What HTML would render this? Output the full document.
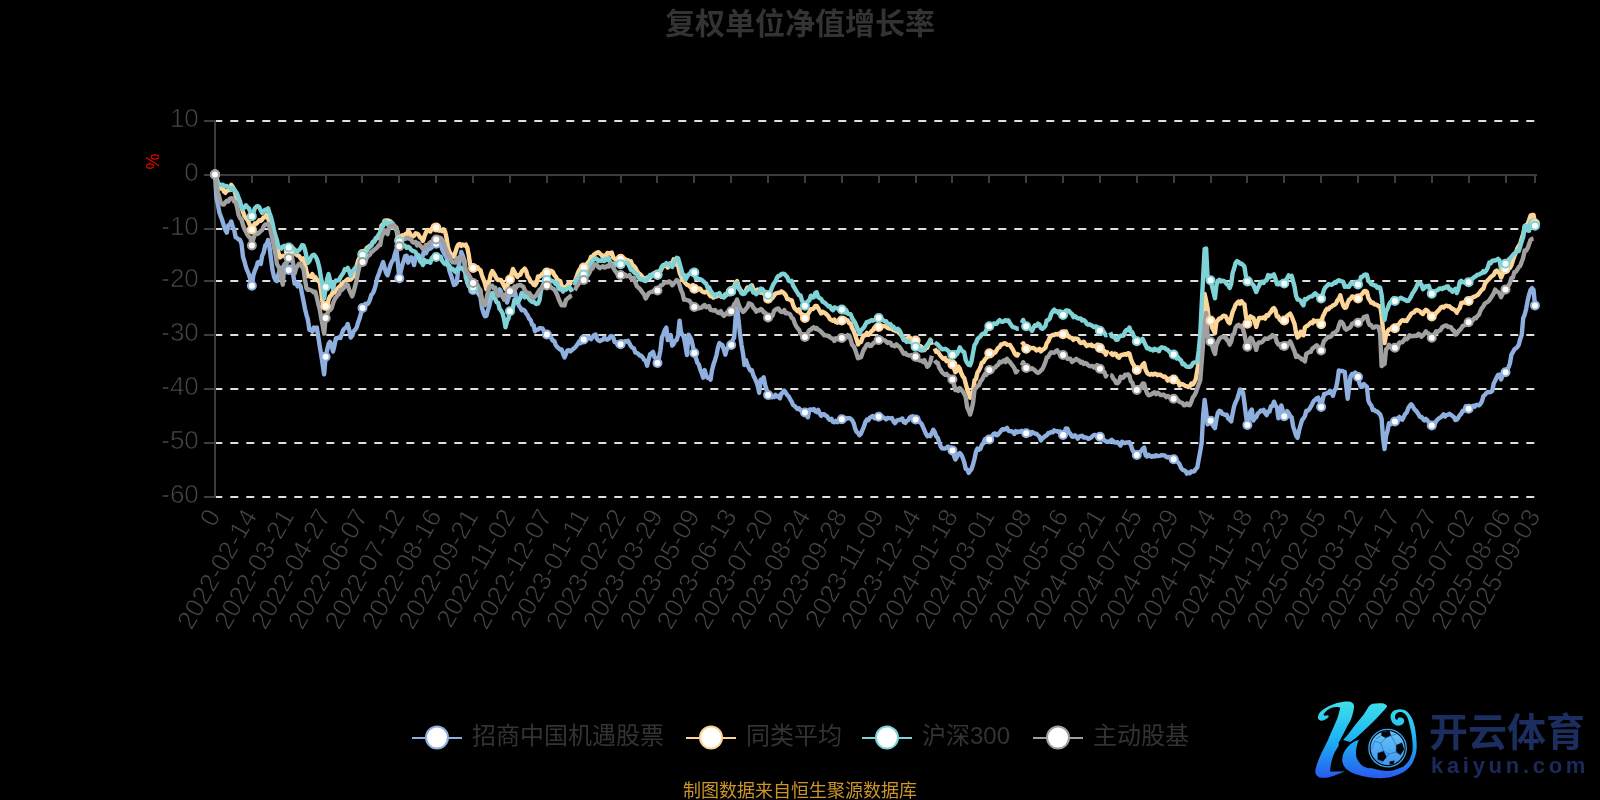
<!DOCTYPE html>
<html><head><meta charset="utf-8"><title>复权单位净值增长率</title><style>
html,body{margin:0;padding:0;background:#000;}
body{width:1600px;height:800px;overflow:hidden;}
svg{display:block;will-change:transform;}
text{font-family:"Liberation Sans","Noto Sans CJK SC",sans-serif;}
.title{font-size:30px;font-weight:bold;fill:#333;font-family:"Liberation Sans","Noto Sans CJK SC",sans-serif;}
.pct{font-size:18px;fill:#e00;}
.ylab{font-size:26px;fill:#474747;stroke:#000;stroke-width:0.7px;}
.xlab{font-size:26px;fill:#474747;stroke:#000;stroke-width:0.7px;}
.leg{font-size:24px;fill:#333;font-family:"Liberation Sans","Noto Sans CJK SC",sans-serif;}
.foot{font-size:18px;fill:#cc9529;font-family:"Liberation Sans","Noto Sans CJK SC",sans-serif;}
.logo1{font-size:39px;fill:#1c2d5f;font-family:"Liberation Sans","Noto Sans CJK SC",sans-serif;font-weight:bold;}
.logo2{font-size:22px;fill:#1a2b5b;letter-spacing:3.7px;font-weight:bold;}
</style></head>
<body>
<svg width="1600" height="800" viewBox="0 0 1600 800">
<text x="800" y="33.8" text-anchor="middle" class="title">复权单位净值增长率</text>
<text x="0" y="0" class="pct" transform="translate(152,161.5) rotate(90)" text-anchor="middle" dominant-baseline="central">%</text>
<line x1="215" y1="121" x2="1535" y2="121" stroke="#dedede" stroke-width="2" stroke-dasharray="8 8" stroke-dashoffset="0.7"/>
<line x1="215" y1="229" x2="1535" y2="229" stroke="#dedede" stroke-width="2" stroke-dasharray="8 8" stroke-dashoffset="0.7"/>
<line x1="215" y1="281" x2="1535" y2="281" stroke="#dedede" stroke-width="2" stroke-dasharray="8 8" stroke-dashoffset="0.7"/>
<line x1="215" y1="335" x2="1535" y2="335" stroke="#dedede" stroke-width="2" stroke-dasharray="8 8" stroke-dashoffset="0.7"/>
<line x1="215" y1="389" x2="1535" y2="389" stroke="#dedede" stroke-width="2" stroke-dasharray="8 8" stroke-dashoffset="0.7"/>
<line x1="215" y1="443" x2="1535" y2="443" stroke="#dedede" stroke-width="2" stroke-dasharray="8 8" stroke-dashoffset="0.7"/>
<line x1="215" y1="497" x2="1535" y2="497" stroke="#dedede" stroke-width="2" stroke-dasharray="8 8" stroke-dashoffset="0.7"/>
<line x1="215" y1="120" x2="215" y2="498" stroke="#3c3c3c" stroke-width="2"/>
<line x1="204" y1="121" x2="215" y2="121" stroke="#3c3c3c" stroke-width="2"/>
<text x="198.8" y="117.5" class="ylab" text-anchor="end" dominant-baseline="central">10</text>
<line x1="204" y1="175" x2="215" y2="175" stroke="#3c3c3c" stroke-width="2"/>
<text x="198.8" y="171.5" class="ylab" text-anchor="end" dominant-baseline="central">0</text>
<line x1="204" y1="229" x2="215" y2="229" stroke="#3c3c3c" stroke-width="2"/>
<text x="198.8" y="225.5" class="ylab" text-anchor="end" dominant-baseline="central">-10</text>
<line x1="204" y1="281" x2="215" y2="281" stroke="#3c3c3c" stroke-width="2"/>
<text x="198.8" y="277.5" class="ylab" text-anchor="end" dominant-baseline="central">-20</text>
<line x1="204" y1="335" x2="215" y2="335" stroke="#3c3c3c" stroke-width="2"/>
<text x="198.8" y="331.5" class="ylab" text-anchor="end" dominant-baseline="central">-30</text>
<line x1="204" y1="389" x2="215" y2="389" stroke="#3c3c3c" stroke-width="2"/>
<text x="198.8" y="385.5" class="ylab" text-anchor="end" dominant-baseline="central">-40</text>
<line x1="204" y1="443" x2="215" y2="443" stroke="#3c3c3c" stroke-width="2"/>
<text x="198.8" y="439.5" class="ylab" text-anchor="end" dominant-baseline="central">-50</text>
<line x1="204" y1="497" x2="215" y2="497" stroke="#3c3c3c" stroke-width="2"/>
<text x="198.8" y="493.5" class="ylab" text-anchor="end" dominant-baseline="central">-60</text>
<line x1="214" y1="175" x2="1537" y2="175" stroke="#3c3c3c" stroke-width="2"/>
<line x1="215" y1="175" x2="215" y2="183" stroke="#3c3c3c" stroke-width="2"/>
<line x1="252" y1="175" x2="252" y2="183" stroke="#3c3c3c" stroke-width="2"/>
<line x1="289" y1="175" x2="289" y2="183" stroke="#3c3c3c" stroke-width="2"/>
<line x1="326" y1="175" x2="326" y2="183" stroke="#3c3c3c" stroke-width="2"/>
<line x1="362" y1="175" x2="362" y2="183" stroke="#3c3c3c" stroke-width="2"/>
<line x1="399" y1="175" x2="399" y2="183" stroke="#3c3c3c" stroke-width="2"/>
<line x1="436" y1="175" x2="436" y2="183" stroke="#3c3c3c" stroke-width="2"/>
<line x1="473" y1="175" x2="473" y2="183" stroke="#3c3c3c" stroke-width="2"/>
<line x1="510" y1="175" x2="510" y2="183" stroke="#3c3c3c" stroke-width="2"/>
<line x1="547" y1="175" x2="547" y2="183" stroke="#3c3c3c" stroke-width="2"/>
<line x1="584" y1="175" x2="584" y2="183" stroke="#3c3c3c" stroke-width="2"/>
<line x1="621" y1="175" x2="621" y2="183" stroke="#3c3c3c" stroke-width="2"/>
<line x1="657" y1="175" x2="657" y2="183" stroke="#3c3c3c" stroke-width="2"/>
<line x1="694" y1="175" x2="694" y2="183" stroke="#3c3c3c" stroke-width="2"/>
<line x1="731" y1="175" x2="731" y2="183" stroke="#3c3c3c" stroke-width="2"/>
<line x1="768" y1="175" x2="768" y2="183" stroke="#3c3c3c" stroke-width="2"/>
<line x1="805" y1="175" x2="805" y2="183" stroke="#3c3c3c" stroke-width="2"/>
<line x1="842" y1="175" x2="842" y2="183" stroke="#3c3c3c" stroke-width="2"/>
<line x1="879" y1="175" x2="879" y2="183" stroke="#3c3c3c" stroke-width="2"/>
<line x1="916" y1="175" x2="916" y2="183" stroke="#3c3c3c" stroke-width="2"/>
<line x1="952" y1="175" x2="952" y2="183" stroke="#3c3c3c" stroke-width="2"/>
<line x1="989" y1="175" x2="989" y2="183" stroke="#3c3c3c" stroke-width="2"/>
<line x1="1026" y1="175" x2="1026" y2="183" stroke="#3c3c3c" stroke-width="2"/>
<line x1="1063" y1="175" x2="1063" y2="183" stroke="#3c3c3c" stroke-width="2"/>
<line x1="1100" y1="175" x2="1100" y2="183" stroke="#3c3c3c" stroke-width="2"/>
<line x1="1137" y1="175" x2="1137" y2="183" stroke="#3c3c3c" stroke-width="2"/>
<line x1="1174" y1="175" x2="1174" y2="183" stroke="#3c3c3c" stroke-width="2"/>
<line x1="1211" y1="175" x2="1211" y2="183" stroke="#3c3c3c" stroke-width="2"/>
<line x1="1247" y1="175" x2="1247" y2="183" stroke="#3c3c3c" stroke-width="2"/>
<line x1="1284" y1="175" x2="1284" y2="183" stroke="#3c3c3c" stroke-width="2"/>
<line x1="1321" y1="175" x2="1321" y2="183" stroke="#3c3c3c" stroke-width="2"/>
<line x1="1358" y1="175" x2="1358" y2="183" stroke="#3c3c3c" stroke-width="2"/>
<line x1="1395" y1="175" x2="1395" y2="183" stroke="#3c3c3c" stroke-width="2"/>
<line x1="1432" y1="175" x2="1432" y2="183" stroke="#3c3c3c" stroke-width="2"/>
<line x1="1469" y1="175" x2="1469" y2="183" stroke="#3c3c3c" stroke-width="2"/>
<line x1="1506" y1="175" x2="1506" y2="183" stroke="#3c3c3c" stroke-width="2"/>
<line x1="1535" y1="175" x2="1535" y2="183" stroke="#3c3c3c" stroke-width="2"/>
<text class="xlab" text-anchor="end" dominant-baseline="central" transform="translate(213.40,511.25) rotate(-60)">0</text>
<text class="xlab" text-anchor="end" dominant-baseline="central" transform="translate(250.27,511.25) rotate(-60)">2022-02-14</text>
<text class="xlab" text-anchor="end" dominant-baseline="central" transform="translate(287.14,511.25) rotate(-60)">2022-03-21</text>
<text class="xlab" text-anchor="end" dominant-baseline="central" transform="translate(324.01,511.25) rotate(-60)">2022-04-27</text>
<text class="xlab" text-anchor="end" dominant-baseline="central" transform="translate(360.89,511.25) rotate(-60)">2022-06-07</text>
<text class="xlab" text-anchor="end" dominant-baseline="central" transform="translate(397.76,511.25) rotate(-60)">2022-07-12</text>
<text class="xlab" text-anchor="end" dominant-baseline="central" transform="translate(434.63,511.25) rotate(-60)">2022-08-16</text>
<text class="xlab" text-anchor="end" dominant-baseline="central" transform="translate(471.50,511.25) rotate(-60)">2022-09-21</text>
<text class="xlab" text-anchor="end" dominant-baseline="central" transform="translate(508.37,511.25) rotate(-60)">2022-11-02</text>
<text class="xlab" text-anchor="end" dominant-baseline="central" transform="translate(545.24,511.25) rotate(-60)">2022-12-07</text>
<text class="xlab" text-anchor="end" dominant-baseline="central" transform="translate(582.12,511.25) rotate(-60)">2023-01-11</text>
<text class="xlab" text-anchor="end" dominant-baseline="central" transform="translate(618.99,511.25) rotate(-60)">2023-02-22</text>
<text class="xlab" text-anchor="end" dominant-baseline="central" transform="translate(655.86,511.25) rotate(-60)">2023-03-29</text>
<text class="xlab" text-anchor="end" dominant-baseline="central" transform="translate(692.73,511.25) rotate(-60)">2023-05-09</text>
<text class="xlab" text-anchor="end" dominant-baseline="central" transform="translate(729.60,511.25) rotate(-60)">2023-06-13</text>
<text class="xlab" text-anchor="end" dominant-baseline="central" transform="translate(766.47,511.25) rotate(-60)">2023-07-20</text>
<text class="xlab" text-anchor="end" dominant-baseline="central" transform="translate(803.34,511.25) rotate(-60)">2023-08-24</text>
<text class="xlab" text-anchor="end" dominant-baseline="central" transform="translate(840.22,511.25) rotate(-60)">2023-09-28</text>
<text class="xlab" text-anchor="end" dominant-baseline="central" transform="translate(877.09,511.25) rotate(-60)">2023-11-09</text>
<text class="xlab" text-anchor="end" dominant-baseline="central" transform="translate(913.96,511.25) rotate(-60)">2023-12-14</text>
<text class="xlab" text-anchor="end" dominant-baseline="central" transform="translate(950.83,511.25) rotate(-60)">2024-01-18</text>
<text class="xlab" text-anchor="end" dominant-baseline="central" transform="translate(987.70,511.25) rotate(-60)">2024-03-01</text>
<text class="xlab" text-anchor="end" dominant-baseline="central" transform="translate(1024.57,511.25) rotate(-60)">2024-04-08</text>
<text class="xlab" text-anchor="end" dominant-baseline="central" transform="translate(1061.44,511.25) rotate(-60)">2024-05-16</text>
<text class="xlab" text-anchor="end" dominant-baseline="central" transform="translate(1098.32,511.25) rotate(-60)">2024-06-21</text>
<text class="xlab" text-anchor="end" dominant-baseline="central" transform="translate(1135.19,511.25) rotate(-60)">2024-07-25</text>
<text class="xlab" text-anchor="end" dominant-baseline="central" transform="translate(1172.06,511.25) rotate(-60)">2024-08-29</text>
<text class="xlab" text-anchor="end" dominant-baseline="central" transform="translate(1208.93,511.25) rotate(-60)">2024-10-14</text>
<text class="xlab" text-anchor="end" dominant-baseline="central" transform="translate(1245.80,511.25) rotate(-60)">2024-11-18</text>
<text class="xlab" text-anchor="end" dominant-baseline="central" transform="translate(1282.67,511.25) rotate(-60)">2024-12-23</text>
<text class="xlab" text-anchor="end" dominant-baseline="central" transform="translate(1319.55,511.25) rotate(-60)">2025-02-05</text>
<text class="xlab" text-anchor="end" dominant-baseline="central" transform="translate(1356.42,511.25) rotate(-60)">2025-03-12</text>
<text class="xlab" text-anchor="end" dominant-baseline="central" transform="translate(1393.29,511.25) rotate(-60)">2025-04-17</text>
<text class="xlab" text-anchor="end" dominant-baseline="central" transform="translate(1430.16,511.25) rotate(-60)">2025-05-27</text>
<text class="xlab" text-anchor="end" dominant-baseline="central" transform="translate(1467.03,511.25) rotate(-60)">2025-07-02</text>
<text class="xlab" text-anchor="end" dominant-baseline="central" transform="translate(1503.90,511.25) rotate(-60)">2025-08-06</text>
<text class="xlab" text-anchor="end" dominant-baseline="central" transform="translate(1533.40,511.25) rotate(-60)">2025-09-03</text>
<path d="M215.00,174.50L216.47,197.95L217.95,204.60L219.42,212.79L220.90,216.80L222.37,220.59L223.85,225.62L225.32,229.87L226.80,232.64L228.27,225.31L229.75,224.89L231.22,221.48L232.70,226.64L234.17,229.80L235.65,237.28L237.12,237.92L238.60,239.43L240.07,239.91L241.55,244.09L243.02,257.01L244.50,261.56L245.97,267.26L247.45,270.97L248.92,274.50L250.40,279.54L251.87,285.75L253.35,275.25L254.82,270.64L256.30,267.28L257.77,262.35L259.25,261.97L260.72,264.00L262.20,255.62L263.67,252.46L265.15,245.74L266.62,243.92L268.09,240.08L269.57,247.43L271.04,259.17L272.52,270.24L273.99,276.56L275.47,280.13L276.94,281.10L278.42,274.71L279.89,269.54L281.37,268.00L282.84,267.13L284.32,265.20L285.79,264.82L287.27,266.24L288.74,270.00L290.22,266.68L291.69,270.21L293.17,274.54L294.64,283.57L296.12,283.25L297.59,286.34L299.07,283.82L300.54,286.14L302.02,293.81L303.49,301.04L304.97,308.71L306.44,314.80L307.92,319.65L309.39,329.81L310.87,329.88L312.34,331.67L313.82,327.46L315.29,329.28L316.77,327.46L318.24,336.63L319.72,346.12L321.19,354.65L322.66,364.52L324.14,374.31L325.61,356.80L327.09,350.23L328.56,343.91L330.04,341.90L331.51,345.34L332.99,351.55L334.46,345.63L335.94,338.24L337.41,338.31L338.89,337.30L340.36,337.97L341.84,333.72L343.31,329.91L344.79,328.25L346.26,327.23L347.74,324.01L349.21,330.09L350.69,337.61L352.16,335.86L353.64,331.22L355.11,329.74L356.59,327.67L358.06,322.56L359.54,318.63L361.01,313.28L362.49,308.00L363.96,305.31L365.44,303.75L366.91,304.52L368.39,303.06L369.86,299.93L371.34,294.89L372.81,293.30L374.28,290.02L375.76,284.75L377.23,278.05L378.71,274.38L380.18,270.04L381.66,266.25L383.13,262.11L384.61,267.55L386.08,272.91L387.56,275.28L389.03,270.15L390.51,264.93L391.98,261.50L393.46,259.59L394.93,253.92L396.41,249.56L397.88,262.97L399.36,278.25L400.83,270.98L402.31,264.93L403.78,260.65L405.26,255.88L406.73,255.80L408.21,262.68L409.68,259.43L411.16,257.26L412.63,260.23L414.11,265.09L415.58,257.22L417.06,256.97L418.53,254.99L420.01,258.55L421.48,260.15L422.96,254.96L424.43,249.49L425.91,253.28L427.38,250.25L428.85,248.84L430.33,248.54L431.80,247.32L433.28,243.81L434.75,244.97L436.23,243.75L437.70,240.92L439.18,238.57L440.65,243.95L442.13,249.04L443.60,252.30L445.08,255.14L446.55,257.35L448.03,264.67L449.50,270.94L450.98,275.41L452.45,279.78L453.93,285.00L455.40,284.32L456.88,282.36L458.35,267.39L459.83,260.61L461.30,251.96L462.78,255.82L464.25,260.20L465.73,277.76L467.20,280.73L468.68,286.20L470.15,285.81L471.63,287.55L473.10,290.00L474.58,289.35L476.05,287.32L477.53,289.88L479.00,294.72L480.47,297.26L481.95,307.57L483.42,312.56L484.90,316.25L486.37,315.87L487.85,310.40L489.32,305.92L490.80,299.06L492.27,294.10L493.75,293.53L495.22,292.69L496.70,293.68L498.17,294.97L499.65,289.33L501.12,292.02L502.60,296.91L504.07,295.11L505.55,295.15L507.02,302.59L508.50,298.06L509.97,292.50L511.45,293.00L512.92,294.94L514.40,289.87L515.87,296.27L517.35,299.87L518.82,305.73L520.30,307.43L521.77,310.33L523.25,309.61L524.72,310.52L526.20,313.43L527.67,315.26L529.15,318.75L530.62,319.95L532.09,324.62L533.57,325.22L535.04,331.28L536.52,329.87L537.99,329.69L539.47,328.25L540.94,328.12L542.42,328.32L543.89,331.19L545.37,332.33L546.84,334.50L548.32,333.47L549.79,335.86L551.27,337.88L552.74,340.71L554.22,340.82L555.69,345.07L557.17,346.84L558.64,348.28L560.12,349.52L561.59,349.50L563.07,353.69L564.54,357.56L566.02,353.67L567.49,350.41L568.97,350.09L570.44,351.36L571.92,350.05L573.39,348.76L574.87,347.67L576.34,345.87L577.82,343.85L579.29,341.41L580.77,343.14L582.24,340.84L583.72,339.50L585.19,340.21L586.66,338.38L588.14,337.80L589.61,337.59L591.09,339.08L592.56,336.90L594.04,335.16L595.51,334.51L596.99,339.04L598.46,340.54L599.94,341.07L601.41,340.21L602.89,339.74L604.36,337.57L605.84,339.21L607.31,339.73L608.79,338.84L610.26,336.42L611.74,336.02L613.21,337.54L614.69,342.06L616.16,342.08L617.64,344.91L619.11,342.70L620.59,344.25L622.06,341.45L623.54,342.49L625.01,341.24L626.49,341.50L627.96,340.71L629.44,343.39L630.91,346.17L632.39,347.73L633.86,348.23L635.34,352.58L636.81,352.84L638.28,353.83L639.76,355.50L641.23,355.78L642.71,357.41L644.18,359.89L645.66,360.61L647.13,365.71L648.61,359.81L650.08,354.36L651.56,353.24L653.03,351.94L654.51,357.20L655.98,358.33L657.46,363.00L658.93,357.58L660.41,350.34L661.88,337.66L663.36,334.04L664.83,329.94L666.31,327.60L667.78,340.13L669.26,338.23L670.73,334.95L672.21,345.63L673.68,343.77L675.16,340.65L676.63,340.01L678.11,335.04L679.58,320.68L681.06,332.68L682.53,334.82L684.01,337.50L685.48,345.96L686.96,355.01L688.43,334.59L689.91,336.77L691.38,339.74L692.85,346.09L694.33,353.00L695.80,357.40L697.28,362.57L698.75,364.37L700.23,369.49L701.70,373.02L703.18,377.62L704.65,370.05L706.13,375.42L707.60,377.73L709.08,377.95L710.55,379.66L712.03,370.10L713.50,364.45L714.98,360.22L716.45,355.25L717.93,347.91L719.40,343.03L720.88,344.35L722.35,345.08L723.83,349.44L725.30,354.71L726.78,349.33L728.25,346.69L729.73,344.70L731.20,345.00L732.68,340.28L734.15,337.53L735.63,317.39L737.10,307.42L738.58,320.52L740.05,334.48L741.53,345.06L743.00,353.37L744.47,364.97L745.95,360.09L747.42,364.73L748.90,367.78L750.37,370.61L751.85,370.15L753.32,375.30L754.80,378.17L756.27,381.62L757.75,385.68L759.22,392.77L760.70,379.54L762.17,379.24L763.65,377.33L765.12,384.79L766.60,389.73L768.07,395.00L769.55,395.18L771.02,397.40L772.50,397.03L773.97,396.96L775.45,394.89L776.92,396.62L778.40,395.88L779.87,398.26L781.35,393.63L782.82,392.60L784.30,390.65L785.77,392.67L787.25,395.13L788.72,396.37L790.20,399.30L791.67,401.67L793.15,405.10L794.62,405.91L796.09,407.69L797.57,409.04L799.04,408.25L800.52,410.16L801.99,411.30L803.47,413.73L804.94,412.50L806.42,412.17L807.89,417.27L809.37,409.69L810.84,409.45L812.32,409.93L813.79,409.06L815.27,411.29L816.74,412.09L818.22,409.76L819.69,413.62L821.17,415.86L822.64,414.23L824.12,414.15L825.59,415.53L827.07,416.18L828.54,418.79L830.02,419.88L831.49,418.93L832.97,421.94L834.44,422.22L835.92,420.84L837.39,422.14L838.87,421.33L840.34,419.15L841.82,419.25L843.29,419.05L844.77,419.74L846.24,418.05L847.72,418.43L849.19,418.01L850.66,418.66L852.14,420.22L853.61,422.95L855.09,428.34L856.56,431.85L858.04,432.99L859.51,435.14L860.99,433.74L862.46,430.05L863.94,426.59L865.41,421.97L866.89,419.62L868.36,420.25L869.84,417.64L871.31,416.89L872.79,415.98L874.26,418.09L875.74,416.94L877.21,417.13L878.69,416.75L880.16,416.75L881.64,416.07L883.11,417.35L884.59,418.18L886.06,419.41L887.54,418.04L889.01,418.18L890.49,418.32L891.96,418.07L893.44,421.30L894.91,423.09L896.39,421.10L897.86,419.95L899.34,420.15L900.81,419.33L902.28,418.47L903.76,422.12L905.23,422.93L906.71,420.74L908.18,420.24L909.66,417.57L911.13,416.72L912.61,416.31L914.08,419.57L915.56,419.38L917.03,421.16L918.51,420.35L919.98,422.33L921.46,423.66L922.93,426.79L924.41,430.24L925.88,433.72L927.36,436.26L928.83,435.40L930.31,436.13L931.78,433.07L933.26,429.67L934.73,432.05L936.21,436.41L937.68,437.70L939.16,442.12L940.63,446.30L942.11,448.42L943.58,448.46L945.06,448.59L946.53,447.82L948.01,446.48L949.48,448.30L950.96,447.48L952.43,450.38L953.91,455.70L955.38,459.58L956.85,457.19L958.33,454.02L959.80,453.03L961.28,454.66L962.75,457.88L964.23,462.20L965.70,468.75L967.18,469.47L968.65,472.85L970.13,470.78L971.60,468.98L973.08,464.15L974.55,458.72L976.03,451.47L977.50,448.47L978.98,449.78L980.45,448.67L981.93,444.69L983.40,443.39L984.88,439.23L986.35,438.94L987.83,437.72L989.30,439.38L990.78,437.85L992.25,435.95L993.73,433.89L995.20,433.44L996.68,435.33L998.15,434.52L999.63,432.53L1001.10,430.65L1002.58,429.13L1004.05,429.69L1005.53,428.78L1007.00,427.90L1008.47,430.67L1009.95,431.18L1011.42,431.18L1012.90,432.03L1014.37,434.05L1015.85,431.16L1017.32,432.30L1018.80,431.39L1020.27,431.78L1021.75,430.80L1023.22,432.27L1024.70,433.08L1026.17,433.25L1027.65,434.42L1029.12,432.11L1030.60,434.50L1032.07,431.96L1033.55,432.88L1035.02,433.70L1036.50,433.75L1037.97,435.24L1039.45,436.65L1040.92,440.38L1042.40,438.50L1043.87,437.32L1045.35,435.91L1046.82,435.42L1048.30,433.06L1049.77,433.09L1051.25,431.86L1052.72,432.37L1054.20,430.36L1055.67,431.12L1057.15,431.28L1058.62,431.94L1060.09,431.45L1061.57,434.14L1063.04,435.00L1064.52,432.15L1065.99,428.38L1067.47,428.60L1068.94,432.46L1070.42,433.88L1071.89,436.55L1073.37,436.75L1074.84,435.31L1076.32,436.44L1077.79,438.76L1079.27,436.53L1080.74,436.00L1082.22,435.81L1083.69,437.64L1085.17,437.45L1086.64,437.66L1088.12,438.89L1089.59,438.36L1091.07,437.57L1092.54,436.15L1094.02,434.87L1095.49,434.93L1096.97,435.65L1098.44,436.88L1099.92,436.75L1101.39,438.12L1102.87,439.59L1104.34,440.12L1105.82,441.46L1107.29,441.71L1108.77,441.75L1110.24,440.92L1111.72,439.73L1113.19,441.23L1114.66,442.46L1116.14,442.51L1117.61,442.20L1119.09,443.79L1120.56,445.51L1122.04,441.81L1123.51,442.60L1124.99,443.01L1126.46,442.42L1127.94,442.49L1129.41,442.27L1130.89,445.17L1132.36,449.93L1133.84,451.83L1135.31,453.28L1136.79,455.00L1138.26,453.63L1139.74,452.11L1141.21,451.13L1142.69,448.90L1144.16,447.46L1145.64,455.26L1147.11,456.44L1148.59,454.81L1150.06,456.03L1151.54,456.75L1153.01,455.87L1154.49,456.51L1155.96,455.30L1157.44,456.02L1158.91,455.98L1160.39,455.58L1161.86,455.07L1163.34,455.38L1164.81,455.53L1166.28,456.97L1167.76,457.48L1169.23,456.98L1170.71,457.90L1172.18,458.76L1173.66,459.25L1175.13,458.37L1176.61,460.82L1178.08,462.39L1179.56,464.30L1181.03,467.85L1182.51,469.74L1183.98,470.28L1185.46,471.11L1186.93,473.57L1188.41,472.52L1189.88,473.28L1191.36,471.31L1192.83,471.67L1194.31,471.28L1195.78,469.02L1197.26,467.50L1198.73,459.44L1200.21,451.47L1201.68,442.74L1203.16,415.12L1204.63,399.90L1206.11,410.99L1207.58,424.39L1209.06,422.76L1210.53,420.63L1212.01,422.82L1213.48,426.38L1214.96,428.10L1216.43,419.04L1217.91,412.83L1219.38,410.79L1220.85,411.30L1222.33,413.90L1223.80,414.22L1225.28,414.89L1226.75,414.81L1228.23,418.59L1229.70,419.69L1231.18,421.36L1232.65,413.47L1234.13,406.27L1235.60,402.30L1237.08,399.38L1238.55,394.79L1240.03,389.41L1241.50,392.17L1242.98,392.31L1244.45,402.90L1245.93,415.17L1247.40,424.94L1248.88,419.19L1250.35,411.55L1251.83,409.47L1253.30,420.52L1254.78,418.35L1256.25,417.26L1257.73,413.54L1259.20,412.36L1260.68,410.51L1262.15,411.09L1263.63,409.95L1265.10,412.90L1266.58,415.07L1268.05,411.39L1269.53,411.64L1271.00,406.14L1272.47,405.98L1273.95,401.65L1275.42,405.32L1276.90,407.10L1278.37,418.20L1279.85,414.54L1281.32,405.37L1282.80,410.79L1284.27,416.31L1285.75,414.19L1287.22,411.16L1288.70,413.03L1290.17,416.25L1291.65,417.34L1293.12,426.44L1294.60,430.74L1296.07,435.52L1297.55,437.85L1299.02,430.80L1300.50,425.27L1301.97,420.29L1303.45,418.42L1304.92,416.13L1306.40,410.65L1307.87,410.70L1309.35,409.27L1310.82,406.59L1312.30,403.99L1313.77,400.91L1315.25,399.96L1316.72,398.29L1318.20,397.65L1319.67,401.50L1321.15,406.94L1322.62,399.96L1324.09,394.06L1325.57,394.05L1327.04,392.98L1328.52,392.91L1329.99,390.77L1331.47,392.46L1332.94,395.84L1334.42,390.62L1335.89,388.57L1337.37,381.48L1338.84,370.42L1340.32,371.06L1341.79,370.89L1343.27,371.53L1344.74,371.93L1346.22,385.77L1347.69,398.73L1349.17,386.92L1350.64,376.36L1352.12,373.86L1353.59,373.90L1355.07,372.54L1356.54,373.72L1358.02,376.94L1359.49,383.64L1360.97,386.87L1362.44,386.72L1363.92,384.11L1365.39,385.71L1366.87,386.56L1368.34,400.63L1369.82,403.72L1371.29,405.54L1372.77,409.96L1374.24,409.77L1375.72,411.38L1377.19,411.34L1378.66,413.03L1380.14,414.43L1381.61,418.68L1383.09,438.54L1384.56,449.08L1386.04,436.10L1387.51,430.97L1388.99,423.12L1390.46,424.19L1391.94,423.00L1393.41,421.30L1394.89,421.56L1396.36,420.80L1397.84,418.41L1399.31,416.95L1400.79,419.16L1402.26,419.65L1403.74,416.88L1405.21,413.86L1406.69,412.55L1408.16,408.42L1409.64,405.85L1411.11,404.22L1412.59,405.91L1414.06,408.69L1415.54,410.22L1417.01,411.97L1418.49,414.24L1419.96,416.78L1421.44,416.93L1422.91,418.91L1424.39,420.47L1425.86,418.89L1427.34,420.18L1428.81,422.38L1430.28,424.13L1431.76,425.38L1433.23,424.92L1434.71,424.02L1436.18,421.13L1437.66,419.38L1439.13,418.14L1440.61,417.42L1442.08,415.94L1443.56,414.37L1445.03,416.62L1446.51,414.88L1447.98,414.72L1449.46,413.75L1450.93,414.91L1452.41,415.89L1453.88,417.10L1455.36,420.09L1456.83,419.69L1458.31,417.61L1459.78,415.15L1461.26,413.78L1462.73,410.67L1464.21,410.70L1465.68,406.34L1467.16,408.09L1468.63,408.81L1470.11,408.93L1471.58,406.34L1473.06,405.78L1474.53,406.80L1476.01,405.01L1477.48,404.93L1478.96,405.34L1480.43,403.93L1481.91,401.44L1483.38,396.16L1484.85,394.86L1486.33,393.04L1487.80,391.98L1489.28,392.34L1490.75,391.94L1492.23,390.93L1493.70,383.47L1495.18,380.73L1496.65,377.34L1498.13,374.94L1499.60,374.53L1501.08,379.47L1502.55,375.44L1504.03,372.74L1505.50,372.25L1506.98,369.69L1508.45,367.35L1509.93,363.42L1511.40,354.67L1512.88,352.28L1514.35,349.39L1515.83,348.43L1517.30,347.10L1518.78,344.80L1520.25,338.86L1521.73,335.02L1523.20,318.07L1524.68,314.54L1526.15,308.99L1527.63,300.78L1529.10,294.63L1530.58,289.85L1532.05,288.15L1533.53,289.96L1535.00,305.44" fill="none" stroke="#8fafdf" stroke-width="4.4" stroke-linejoin="round"/>
<path d="M215.00,174.50L216.47,178.51L217.95,184.55L219.42,186.28L220.90,188.48L222.37,187.14L223.85,191.33L225.32,192.82L226.80,190.77L228.27,190.24L229.75,190.17L231.22,184.83L232.70,186.77L234.17,189.72L235.65,195.22L237.12,199.93L238.60,200.79L240.07,205.67L241.55,207.48L243.02,212.06L244.50,215.90L245.97,217.99L247.45,219.75L248.92,222.78L250.40,226.30L251.87,229.50L253.35,226.33L254.82,223.51L256.30,223.91L257.77,222.24L259.25,220.23L260.72,220.80L262.20,219.55L263.67,217.34L265.15,217.08L266.62,214.64L268.09,218.26L269.57,222.40L271.04,226.76L272.52,235.04L273.99,238.09L275.47,243.77L276.94,247.40L278.42,252.45L279.89,257.39L281.37,256.40L282.84,255.97L284.32,255.88L285.79,256.61L287.27,255.75L288.74,251.25L290.22,255.24L291.69,250.40L293.17,250.45L294.64,252.51L296.12,254.23L297.59,255.48L299.07,256.02L300.54,258.15L302.02,260.21L303.49,258.38L304.97,264.31L306.44,271.52L307.92,276.10L309.39,275.95L310.87,276.65L312.34,274.09L313.82,277.84L315.29,277.11L316.77,279.42L318.24,281.04L319.72,282.24L321.19,291.32L322.66,303.45L324.14,305.85L325.61,306.00L327.09,306.72L328.56,299.70L330.04,296.31L331.51,295.02L332.99,291.77L334.46,292.46L335.94,289.41L337.41,288.68L338.89,287.26L340.36,286.03L341.84,283.64L343.31,284.45L344.79,282.24L346.26,280.40L347.74,279.11L349.21,279.97L350.69,279.53L352.16,277.80L353.64,276.29L355.11,273.84L356.59,266.21L358.06,260.73L359.54,257.77L361.01,255.07L362.49,254.00L363.96,252.11L365.44,250.24L366.91,247.81L368.39,246.83L369.86,245.62L371.34,245.20L372.81,242.65L374.28,241.45L375.76,239.04L377.23,238.18L378.71,235.59L380.18,232.77L381.66,225.39L383.13,224.46L384.61,220.62L386.08,220.36L387.56,220.34L389.03,220.77L390.51,221.46L391.98,223.89L393.46,226.45L394.93,226.30L396.41,227.87L397.88,233.61L399.36,240.00L400.83,236.81L402.31,235.27L403.78,237.15L405.26,234.18L406.73,234.08L408.21,231.01L409.68,232.66L411.16,237.02L412.63,236.50L414.11,235.66L415.58,233.34L417.06,233.74L418.53,234.65L420.01,237.53L421.48,238.11L422.96,240.85L424.43,236.27L425.91,232.62L427.38,229.96L428.85,230.25L430.33,231.48L431.80,228.98L433.28,225.83L434.75,226.82L436.23,227.50L437.70,229.33L439.18,230.76L440.65,229.73L442.13,231.07L443.60,229.23L445.08,231.42L446.55,237.92L448.03,247.53L449.50,251.89L450.98,254.40L452.45,254.64L453.93,256.65L455.40,252.20L456.88,247.38L458.35,244.63L459.83,244.02L461.30,245.85L462.78,244.49L464.25,245.43L465.73,244.65L467.20,247.56L468.68,254.50L470.15,264.68L471.63,266.23L473.10,268.00L474.58,267.63L476.05,266.90L477.53,267.21L479.00,269.30L480.47,270.09L481.95,275.41L483.42,279.30L484.90,283.33L486.37,289.22L487.85,283.93L489.32,281.10L490.80,274.22L492.27,271.08L493.75,273.14L495.22,275.86L496.70,278.78L498.17,280.15L499.65,279.78L501.12,280.21L502.60,282.85L504.07,285.80L505.55,289.15L507.02,286.74L508.50,281.69L509.97,279.50L511.45,274.30L512.92,268.98L514.40,271.75L515.87,274.73L517.35,276.86L518.82,275.02L520.30,274.76L521.77,271.41L523.25,270.15L524.72,268.59L526.20,271.16L527.67,276.61L529.15,278.22L530.62,281.77L532.09,282.28L533.57,284.69L535.04,285.36L536.52,282.95L537.99,276.38L539.47,276.60L540.94,275.56L542.42,273.76L543.89,273.81L545.37,274.87L546.84,272.50L548.32,270.99L549.79,271.44L551.27,270.72L552.74,271.76L554.22,274.83L555.69,276.50L557.17,279.28L558.64,280.42L560.12,281.02L561.59,285.73L563.07,287.32L564.54,287.35L566.02,286.75L567.49,285.20L568.97,282.44L570.44,283.62L571.92,284.67M574.87,281.36L576.34,277.63L577.82,273.18L579.29,269.88L580.77,268.25L582.24,270.27L583.72,267.50L585.19,267.70L586.66,264.22L588.14,262.29L589.61,260.81L591.09,256.65L592.56,257.51L594.04,254.38L595.51,253.63L596.99,252.54L598.46,252.16L599.94,253.53L601.41,254.82L602.89,257.05L604.36,255.48L605.84,256.56L607.31,253.04L608.79,253.09L610.26,253.76L611.74,252.49L613.21,257.55L614.69,258.71L616.16,260.00L617.64,259.07L619.11,257.55L620.59,258.75L622.06,260.00L623.54,259.98L625.01,259.04L626.49,260.23L627.96,260.15L629.44,261.63L630.91,261.34L632.39,265.23L633.86,265.97L635.34,267.72L636.81,270.55L638.28,272.94L639.76,274.04L641.23,275.43L642.71,277.37L644.18,278.42L645.66,280.90L647.13,277.46L648.61,277.50L650.08,277.96L651.56,274.64L653.03,273.97L654.51,273.00L655.98,272.87L657.46,274.50L658.93,272.28L660.41,271.05L661.88,268.14L663.36,265.07L664.83,265.95L666.31,265.10L667.78,267.53L669.26,265.19L670.73,263.28L672.21,262.85L673.68,259.34L675.16,260.26L676.63,264.76L678.11,265.01L679.58,272.53L681.06,276.07L682.53,279.67L684.01,281.21L685.48,283.21L686.96,284.66L688.43,285.30L689.91,286.86L691.38,286.10L692.85,285.05L694.33,288.75L695.80,287.36L697.28,289.86L698.75,288.35L700.23,288.84L701.70,291.02L703.18,292.03L704.65,292.55L706.13,291.54L707.60,291.92L709.08,294.25L710.55,296.20L712.03,294.96L713.50,297.54L714.98,296.63L716.45,296.35L717.93,294.83L719.40,295.41L720.88,296.57L722.35,296.90L723.83,297.21L725.30,294.34L726.78,294.80L728.25,293.45L729.73,294.15L731.20,291.25L732.68,287.76L734.15,286.29L735.63,282.90L737.10,281.19L738.58,286.59L740.05,289.13L741.53,291.58L743.00,292.35L744.47,292.98L745.95,290.24L747.42,287.46L748.90,287.84L750.37,286.81L751.85,285.25L753.32,289.18L754.80,290.31L756.27,291.75L757.75,289.55L759.22,292.03L760.70,292.74L762.17,292.23L763.65,293.31L765.12,295.54L766.60,296.99L768.07,298.75L769.55,299.27L771.02,298.13L772.50,297.90L773.97,295.81L775.45,293.53L776.92,293.15L778.40,292.72L779.87,292.66L781.35,291.33L782.82,292.16L784.30,293.50L785.77,295.20L787.25,298.99L788.72,299.19L790.20,300.04L791.67,300.09L793.15,305.11L794.62,308.29L796.09,309.71L797.57,311.08L799.04,309.34L800.52,313.31L801.99,314.11L803.47,317.84L804.94,318.00L806.42,317.85L807.89,314.28L809.37,311.76L810.84,309.15L812.32,309.14L813.79,308.45L815.27,305.96L816.74,305.96L818.22,308.28L819.69,310.85L821.17,313.44L822.64,311.82L824.12,312.47L825.59,313.50L827.07,314.85L828.54,316.47L830.02,319.27L831.49,320.01L832.97,320.73L834.44,319.51L835.92,322.24L837.39,322.68L838.87,320.29L840.34,320.22L841.82,320.50L843.29,318.50L844.77,318.68L846.24,320.00L847.72,320.47L849.19,323.26L850.66,323.53L852.14,327.94L853.61,330.58L855.09,334.90L856.56,339.19L858.04,344.40L859.51,342.38L860.99,342.15L862.46,337.81L863.94,335.19L865.41,335.25L866.89,332.84L868.36,335.03L869.84,333.65L871.31,331.33L872.79,330.37L874.26,327.80L875.74,326.31L877.21,326.47L878.69,327.00L880.16,325.70L881.64,326.01L883.11,326.16L884.59,325.77L886.06,326.71L887.54,327.91L889.01,328.55L890.49,328.53L891.96,328.93L893.44,330.10L894.91,330.47L896.39,331.22L897.86,330.98L899.34,333.14L900.81,334.65L902.28,336.47L903.76,339.59L905.23,338.76L906.71,339.40L908.18,337.74L909.66,337.48L911.13,338.71L912.61,340.45L914.08,341.25L915.56,340.50L917.03,342.60L918.51,345.95L919.98,345.86L921.46,346.82L922.93,348.68L924.41,349.98L925.88,348.32L927.36,347.64L928.83,343.13L930.31,339.80L931.78,344.95M934.73,348.28L936.21,351.79L937.68,351.48L939.16,353.81L940.63,356.05L942.11,357.58L943.58,358.87L945.06,358.05L946.53,361.21L948.01,360.68L949.48,361.12L950.96,362.04L952.43,364.50L953.91,368.03L955.38,372.18L956.85,370.93L958.33,366.52L959.80,368.60L961.28,373.21L962.75,376.45L964.23,377.98L965.70,383.58L967.18,389.33L968.65,393.08L970.13,397.63L971.60,394.29L973.08,390.63L974.55,380.30L976.03,378.82L977.50,372.47L978.98,370.38L980.45,367.33L981.93,362.51L983.40,362.08L984.88,359.42L986.35,357.81L987.83,356.93L989.30,353.25L990.78,355.96L992.25,355.00L993.73,352.52L995.20,352.72L996.68,350.14L998.15,347.82L999.63,347.00L1001.10,344.41L1002.58,344.30L1004.05,343.29L1005.53,343.36L1007.00,344.76L1008.47,344.84L1009.95,344.99L1011.42,347.31L1012.90,349.69L1014.37,352.93L1015.85,355.11L1017.32,355.51L1018.80,352.41M1021.75,345.02L1023.22,343.24L1024.70,346.30L1026.17,348.75L1027.65,348.08L1029.12,347.16L1030.60,347.93L1032.07,348.08L1033.55,347.97L1035.02,348.99L1036.50,350.54L1037.97,349.85L1039.45,348.87L1040.92,351.39L1042.40,349.86L1043.87,348.99L1045.35,347.83L1046.82,342.89L1048.30,341.30L1049.77,337.37L1051.25,335.88L1052.72,334.90L1054.20,335.08L1055.67,333.99L1057.15,334.53L1058.62,333.59L1060.09,333.67L1061.57,335.08L1063.04,334.25L1064.52,331.85L1065.99,331.44L1067.47,335.42L1068.94,336.82L1070.42,337.69L1071.89,337.94L1073.37,339.85L1074.84,338.45L1076.32,338.81L1077.79,338.95L1079.27,341.44L1080.74,343.05L1082.22,342.58L1083.69,341.74L1085.17,344.00L1086.64,345.94L1088.12,344.88L1089.59,345.39L1091.07,344.60L1092.54,346.08L1094.02,345.93L1095.49,346.56L1096.97,344.82L1098.44,344.78L1099.92,348.00L1101.39,348.64L1102.87,351.57L1104.34,351.05L1105.82,354.69L1107.29,350.16M1110.24,351.66L1111.72,354.22L1113.19,355.04L1114.66,353.59L1116.14,354.09L1117.61,356.97L1119.09,357.64L1120.56,355.49L1122.04,354.64L1123.51,354.68L1124.99,354.01L1126.46,354.72L1127.94,353.13L1129.41,353.52L1130.89,358.91L1132.36,362.84L1133.84,365.13L1135.31,370.35L1136.79,370.00L1138.26,369.01L1139.74,367.85L1141.21,367.28L1142.69,364.67L1144.16,363.19L1145.64,369.77L1147.11,372.82L1148.59,374.20L1150.06,374.68L1151.54,373.84L1153.01,374.72L1154.49,373.70L1155.96,373.83L1157.44,375.19L1158.91,374.66L1160.39,374.72L1161.86,375.80L1163.34,376.80L1164.81,376.49L1166.28,378.05L1167.76,380.50L1169.23,378.72L1170.71,378.86L1172.18,378.89L1173.66,379.50L1175.13,380.39L1176.61,381.86L1178.08,381.02L1179.56,385.52L1181.03,383.81L1182.51,384.14L1183.98,385.02L1185.46,386.09L1186.93,386.18L1188.41,386.97L1189.88,386.19L1191.36,383.48L1192.83,384.55L1194.31,382.02L1195.78,379.12L1197.26,370.54L1198.73,361.84L1200.21,350.00L1201.68,333.96L1203.16,313.84L1204.63,293.99L1206.11,300.74L1207.58,308.30L1209.06,321.67L1210.53,320.56L1212.01,327.47L1213.48,330.15L1214.96,333.32L1216.43,321.74L1217.91,320.29L1219.38,318.43L1220.85,318.41L1222.33,316.61L1223.80,315.66L1225.28,316.08L1226.75,318.32L1228.23,322.02L1229.70,323.22L1231.18,317.50L1232.65,311.87L1234.13,308.56L1235.60,304.80L1237.08,302.89L1238.55,301.54L1240.03,303.64L1241.50,301.24L1242.98,303.25L1244.45,304.35L1245.93,315.89L1247.40,323.75L1248.88,320.18L1250.35,316.24L1251.83,317.30L1253.30,317.76L1254.78,321.90L1256.25,327.00L1257.73,321.66L1259.20,317.88L1260.68,317.93L1262.15,318.17L1263.63,317.28L1265.10,318.59L1266.58,315.27L1268.05,315.72L1269.53,313.36L1271.00,311.88L1272.47,309.06L1273.95,308.02L1275.42,310.23L1276.90,316.47L1278.37,316.52L1279.85,319.90L1281.32,319.80L1282.80,319.85L1284.27,320.56L1285.75,318.52L1287.22,315.89L1288.70,314.69L1290.17,313.68L1291.65,316.45L1293.12,320.30L1294.60,324.10L1296.07,332.97L1297.55,337.44L1299.02,336.09L1300.50,331.65L1301.97,333.98L1303.45,335.25L1304.92,327.37L1306.40,326.22L1307.87,325.51L1309.35,324.02L1310.82,322.44L1312.30,323.13L1313.77,320.39L1315.25,321.64L1316.72,320.92L1318.20,320.82L1319.67,320.62L1321.15,324.31L1322.62,316.95L1324.09,314.03L1325.57,310.87L1327.04,308.81L1328.52,309.23L1329.99,307.30L1331.47,306.74L1332.94,305.33L1334.42,304.87L1335.89,303.64L1337.37,300.46L1338.84,298.76L1340.32,295.28L1341.79,301.01L1343.27,305.52L1344.74,307.88L1346.22,307.36L1347.69,302.75L1349.17,299.51L1350.64,298.96L1352.12,296.46L1353.59,296.75L1355.07,297.66L1356.54,296.44L1358.02,298.44L1359.49,295.72L1360.97,294.86L1362.44,293.74L1363.92,291.34L1365.39,290.95L1366.87,291.88L1368.34,298.00L1369.82,300.26L1371.29,302.83L1372.77,302.49L1374.24,304.27L1375.72,304.53L1377.19,305.03L1378.66,306.21L1380.14,306.08L1381.61,315.00L1383.09,331.16L1384.56,342.99L1386.04,334.93L1387.51,331.26L1388.99,329.42L1390.46,329.32L1391.94,327.48L1393.41,327.03L1394.89,328.21L1396.36,325.66L1397.84,325.25L1399.31,323.78L1400.79,321.43L1402.26,320.19L1403.74,320.71L1405.21,320.48L1406.69,321.03L1408.16,318.40L1409.64,316.27L1411.11,313.77L1412.59,312.89L1414.06,312.30L1415.54,310.40L1417.01,309.94L1418.49,310.56L1419.96,311.37L1421.44,313.13L1422.91,313.98L1424.39,311.34L1425.86,309.78L1427.34,310.69L1428.81,312.64L1430.28,315.64L1431.76,316.40L1433.23,316.36L1434.71,314.82L1436.18,312.85L1437.66,311.32L1439.13,309.88L1440.61,307.70L1442.08,306.72L1443.56,307.48L1445.03,306.21L1446.51,305.59L1447.98,306.41L1449.46,306.25L1450.93,307.78L1452.41,308.88L1453.88,309.35L1455.36,310.53L1456.83,312.61L1458.31,309.63L1459.78,307.94L1461.26,302.90L1462.73,302.75L1464.21,302.23L1465.68,302.82L1467.16,300.57L1468.63,300.88L1470.11,301.09L1471.58,297.99L1473.06,297.20L1474.53,296.69L1476.01,295.90L1477.48,295.15L1478.96,293.66L1480.43,291.37L1481.91,289.64L1483.38,288.61L1484.85,284.10L1486.33,281.71L1487.80,280.23L1489.28,278.70L1490.75,277.08L1492.23,275.78L1493.70,274.95L1495.18,271.56L1496.65,270.51L1498.13,272.23L1499.60,273.09L1501.08,277.60L1502.55,274.18L1504.03,271.43L1505.50,269.17L1506.98,269.39L1508.45,268.18L1509.93,267.85L1511.40,265.23L1512.88,260.47L1514.35,255.98L1515.83,252.87L1517.30,248.47L1518.78,245.91L1520.25,243.71L1521.73,238.47L1523.20,234.02L1524.68,226.66L1526.15,224.97L1527.63,223.97L1529.10,220.05L1530.58,215.58L1532.05,215.00L1533.53,214.90L1535.00,223.62" fill="none" stroke="#fdd598" stroke-width="4.4" stroke-linejoin="round"/>
<path d="M215.00,174.50L216.47,177.00L217.95,183.24L219.42,184.40L220.90,184.82L222.37,184.60L223.85,185.47L225.32,186.20L226.80,186.01L228.27,187.06L229.75,187.77L231.22,189.67L232.70,188.06L234.17,189.44L235.65,191.52L237.12,193.76L238.60,197.91L240.07,201.39L241.55,207.68L243.02,209.00L244.50,207.07L245.97,205.26L247.45,207.16L248.92,208.30L250.40,212.28L251.87,216.25L253.35,213.03L254.82,208.22L256.30,206.66L257.77,206.15L259.25,207.14L260.72,210.22L262.20,212.95L263.67,211.38L265.15,209.64L266.62,210.15L268.09,208.36L269.57,213.19L271.04,217.23L272.52,223.24L273.99,230.64L275.47,235.66L276.94,240.10L278.42,247.27L279.89,247.38L281.37,248.55L282.84,246.72L284.32,245.77L285.79,246.94L287.27,249.00L288.74,247.50L290.22,245.91L291.69,246.56L293.17,248.30L294.64,249.57L296.12,252.31L297.59,251.19L299.07,250.06L300.54,248.21L302.02,245.12L303.49,245.43L304.97,249.55L306.44,256.55L307.92,262.83L309.39,261.16L310.87,257.52L312.34,255.48L313.82,254.64L315.29,256.03L316.77,258.75L318.24,263.24L319.72,269.79L321.19,279.07L322.66,284.95L324.14,298.41L325.61,287.00L327.09,279.20L328.56,274.10L330.04,280.02L331.51,285.87L332.99,288.39L334.46,282.66L335.94,280.37L337.41,280.62L338.89,280.21L340.36,277.33L341.84,275.10L343.31,273.02L344.79,269.25L346.26,269.86L347.74,267.81L349.21,271.02L350.69,275.99L352.16,272.00L353.64,270.14L355.11,267.85L356.59,269.16L358.06,265.77L359.54,263.61L361.01,259.59L362.49,255.00L363.96,253.47L365.44,250.19L366.91,250.75L368.39,247.73L369.86,247.11L371.34,245.35L372.81,241.80L374.28,241.76L375.76,238.11L377.23,237.09L378.71,234.61L380.18,234.10L381.66,227.89L383.13,225.73L384.61,221.43L386.08,222.26L387.56,224.37L389.03,222.87L390.51,223.73L391.98,222.69L393.46,224.58L394.93,228.57L396.41,230.09L397.88,237.47L399.36,241.25L400.83,242.84L402.31,245.85L403.78,245.07L405.26,245.94L406.73,247.79L408.21,246.67L409.68,247.84L411.16,249.85L412.63,250.99L414.11,251.08L415.58,252.28L417.06,254.84L418.53,257.06L420.01,261.26L421.48,262.40L422.96,264.99L424.43,260.04L425.91,262.12L427.38,261.18L428.85,262.01L430.33,262.66L431.80,258.20L433.28,256.85L434.75,255.47L436.23,257.00L437.70,256.63L439.18,257.21L440.65,256.77L442.13,260.71L443.60,262.71L445.08,264.12L446.55,262.21L448.03,265.14L449.50,265.99L450.98,269.13L452.45,268.74L453.93,270.25L455.40,271.89L456.88,269.48L458.35,268.63L459.83,268.68L461.30,267.71L462.78,268.92L464.25,270.87L465.73,272.95L467.20,282.62L468.68,285.03L470.15,286.78L471.63,286.77L473.10,287.50L474.58,290.55L476.05,290.17L477.53,292.55L479.00,293.90L480.47,293.28L481.95,299.96L483.42,301.12L484.90,305.07L486.37,303.24L487.85,300.27L489.32,294.62L490.80,294.11L492.27,293.22L493.75,297.48L495.22,298.73L496.70,302.41L498.17,302.88L499.65,308.94L501.12,310.72L502.60,313.48L504.07,319.27L505.55,327.27L507.02,321.17L508.50,318.36L509.97,311.25L511.45,312.06L512.92,307.76L514.40,300.05L515.87,302.26L517.35,302.53L518.82,300.85L520.30,297.73L521.77,292.88L523.25,295.73L524.72,297.34L526.20,294.77L527.67,296.03L529.15,299.08L530.62,300.67L532.09,301.93L533.57,301.41L535.04,303.24L536.52,303.98L537.99,303.42L539.47,300.37L540.94,290.71L542.42,286.67L543.89,282.97L545.37,280.40L546.84,280.00L548.32,280.11L549.79,280.24L551.27,280.89L552.74,280.95L554.22,281.98L555.69,283.98L557.17,282.88L558.64,288.52L560.12,289.40L561.59,288.53L563.07,291.56L564.54,289.53L566.02,289.67L567.49,288.40L568.97,287.13L570.44,288.42L571.92,291.86M574.87,285.63L576.34,279.87L577.82,278.17L579.29,276.08L580.77,274.94L582.24,273.21L583.72,274.50L585.19,271.79L586.66,271.13L588.14,268.51L589.61,265.26L591.09,262.92L592.56,260.91L594.04,259.22L595.51,258.23L596.99,258.95L598.46,260.90L599.94,260.46L601.41,260.87L602.89,260.09L604.36,261.04L605.84,258.78L607.31,259.72L608.79,258.05L610.26,263.05L611.74,263.12L613.21,263.99L614.69,264.86L616.16,263.04L617.64,262.44L619.11,263.54L620.59,264.25L622.06,264.46L623.54,263.14L625.01,262.50L626.49,262.56L627.96,263.48L629.44,266.41L630.91,270.00L632.39,270.31L633.86,271.96L635.34,273.22L636.81,273.72L638.28,276.67L639.76,279.09L641.23,279.51L642.71,279.00L644.18,280.69L645.66,280.93L647.13,279.08L648.61,277.21L650.08,275.08L651.56,276.30L653.03,273.67L654.51,274.10L655.98,274.65L657.46,275.00L658.93,272.32L660.41,269.84L661.88,266.47L663.36,265.74L664.83,264.81L666.31,263.09L667.78,264.73L669.26,263.53L670.73,266.00L672.21,266.97L673.68,263.55L675.16,259.72L676.63,257.80L678.11,258.36L679.58,263.28L681.06,268.52L682.53,274.57L684.01,274.93L685.48,279.69L686.96,277.04L688.43,274.53L689.91,273.60L691.38,271.14L692.85,271.91L694.33,272.50L695.80,278.38L697.28,278.27L698.75,279.11L700.23,279.30L701.70,279.99L703.18,281.13L704.65,282.65L706.13,283.61L707.60,287.76L709.08,287.42L710.55,290.65L712.03,292.85L713.50,294.56L714.98,295.66L716.45,294.18L717.93,294.02L719.40,293.13L720.88,295.74L722.35,296.54L723.83,297.36L725.30,296.04L726.78,293.80L728.25,290.61L729.73,292.49L731.20,291.25L732.68,290.03L734.15,288.03L735.63,284.93L737.10,282.77L738.58,288.60L740.05,290.02L741.53,293.51L743.00,294.00L744.47,293.65L745.95,291.47L747.42,290.08L748.90,289.12L750.37,286.12L751.85,288.78L753.32,292.60L754.80,292.59L756.27,294.21L757.75,291.89L759.22,292.03L760.70,288.73L762.17,288.98L763.65,290.77L765.12,291.76L766.60,294.18L768.07,295.00L769.55,294.66L771.02,290.02L772.50,286.26L773.97,283.26L775.45,281.35L776.92,277.88L778.40,275.93L779.87,275.66L781.35,274.03L782.82,273.72L784.30,273.83L785.77,275.66L787.25,276.93L788.72,280.75L790.20,281.41L791.67,280.88L793.15,285.82L794.62,288.00L796.09,290.62L797.57,292.88L799.04,295.24L800.52,295.48L801.99,300.59L803.47,303.53L804.94,305.75L806.42,303.71L807.89,301.21L809.37,300.47L810.84,295.66L812.32,297.52L813.79,297.27L815.27,293.03L816.74,292.29L818.22,297.18L819.69,298.11L821.17,298.96L822.64,301.80L824.12,302.24L825.59,303.55L827.07,305.01L828.54,306.54L830.02,306.23L831.49,309.11L832.97,310.13L834.44,307.39L835.92,307.85L837.39,308.61L838.87,309.34L840.34,308.33L841.82,309.50L843.29,309.95L844.77,312.47L846.24,310.11L847.72,313.72L849.19,314.15L850.66,314.31L852.14,318.16L853.61,320.32L855.09,322.72L856.56,326.24L858.04,329.71L859.51,333.56L860.99,330.59L862.46,328.94L863.94,327.34L865.41,324.60L866.89,321.92L868.36,322.13L869.84,321.05L871.31,320.14L872.79,320.66L874.26,320.03L875.74,319.52L877.21,318.91L878.69,318.00L880.16,318.61L881.64,319.12L883.11,320.25L884.59,321.14L886.06,321.19L887.54,323.68L889.01,323.82L890.49,324.23L891.96,326.46L893.44,326.73L894.91,329.04L896.39,329.55L897.86,328.67L899.34,330.26L900.81,332.93L902.28,336.77L903.76,339.96L905.23,340.42L906.71,341.95L908.18,341.13L909.66,341.65L911.13,342.33L912.61,342.91L914.08,345.77L915.56,346.75L917.03,347.65L918.51,348.87L919.98,349.91L921.46,350.49L922.93,350.39L924.41,348.53L925.88,346.65L927.36,344.75L928.83,343.04L930.31,341.03L931.78,338.82M934.73,342.39L936.21,343.55L937.68,344.46L939.16,346.37L940.63,347.79L942.11,349.36L943.58,349.09L945.06,348.79L946.53,349.43L948.01,350.67L949.48,352.39L950.96,353.36L952.43,355.00L953.91,353.76L955.38,352.21L956.85,354.21L958.33,351.37L959.80,347.28L961.28,350.06L962.75,351.42L964.23,352.27L965.70,360.02L967.18,362.93L968.65,364.77L970.13,365.18L971.60,360.96L973.08,352.52L974.55,344.96L976.03,343.01L977.50,339.12L978.98,337.62L980.45,336.28L981.93,334.18L983.40,333.55L984.88,334.02L986.35,329.93L987.83,327.63L989.30,326.25L990.78,325.12L992.25,325.22L993.73,323.49L995.20,323.71L996.68,323.76L998.15,321.53L999.63,320.16L1001.10,321.52L1002.58,321.91L1004.05,321.03L1005.53,320.19L1007.00,320.94L1008.47,320.47L1009.95,323.30L1011.42,325.33L1012.90,327.19L1014.37,327.41L1015.85,327.98L1017.32,328.73L1018.80,328.68M1021.75,323.03L1023.22,320.02L1024.70,324.52L1026.17,326.25L1027.65,327.61L1029.12,327.80L1030.60,328.95L1032.07,330.87L1033.55,327.52L1035.02,325.31L1036.50,325.86L1037.97,323.61L1039.45,324.57L1040.92,328.04L1042.40,328.92L1043.87,327.41L1045.35,325.94L1046.82,320.40L1048.30,320.03L1049.77,318.48L1051.25,313.78L1052.72,311.30L1054.20,309.60L1055.67,311.57L1057.15,311.13L1058.62,313.09L1060.09,311.31L1061.57,313.90L1063.04,315.00L1064.52,312.39L1065.99,310.40L1067.47,310.53L1068.94,310.96L1070.42,312.83L1071.89,313.78L1073.37,317.17L1074.84,316.11L1076.32,317.26L1077.79,318.39L1079.27,318.43L1080.74,318.54L1082.22,320.59L1083.69,319.95L1085.17,321.15L1086.64,323.71L1088.12,324.77L1089.59,324.31L1091.07,325.17L1092.54,326.01L1094.02,327.17L1095.49,326.45L1096.97,326.89L1098.44,328.90L1099.92,330.75L1101.39,330.08L1102.87,331.01L1104.34,332.75L1105.82,335.37L1107.29,334.90M1110.24,332.43L1111.72,336.18L1113.19,336.84L1114.66,337.39L1116.14,339.71L1117.61,339.66L1119.09,336.66L1120.56,335.80L1122.04,335.71L1123.51,335.65L1124.99,331.62L1126.46,329.97L1127.94,330.23L1129.41,327.51L1130.89,331.82L1132.36,332.41L1133.84,336.38L1135.31,337.83L1136.79,341.25L1138.26,341.54L1139.74,339.90L1141.21,340.79L1142.69,338.90L1144.16,342.14L1145.64,345.21L1147.11,348.33L1148.59,347.93L1150.06,349.70L1151.54,349.37L1153.01,350.49L1154.49,348.87L1155.96,349.95L1157.44,349.63L1158.91,351.24L1160.39,348.03L1161.86,347.14L1163.34,347.90L1164.81,347.94L1166.28,349.40L1167.76,349.84L1169.23,351.56L1170.71,352.71L1172.18,354.30L1173.66,354.50L1175.13,356.47L1176.61,358.46L1178.08,357.42L1179.56,359.38L1181.03,360.34L1182.51,364.31L1183.98,363.83L1185.46,365.70L1186.93,366.78L1188.41,366.62L1189.88,366.93L1191.36,365.92L1192.83,363.42L1194.31,362.41L1195.78,362.26L1197.26,361.60L1198.73,350.18L1200.21,334.85L1201.68,304.78L1203.16,276.56L1204.63,248.86L1206.11,248.54L1207.58,277.10L1209.06,281.91L1210.53,280.25L1212.01,286.17L1213.48,292.13L1214.96,298.24L1216.43,285.08L1217.91,280.60L1219.38,279.82L1220.85,281.40L1222.33,280.77L1223.80,280.84L1225.28,282.23L1226.75,284.10L1228.23,284.99L1229.70,287.95L1231.18,284.00L1232.65,272.91L1234.13,268.51L1235.60,262.83L1237.08,261.11L1238.55,261.89L1240.03,263.73L1241.50,263.57L1242.98,264.90L1244.45,266.85L1245.93,276.22L1247.40,281.56L1248.88,278.46L1250.35,280.04L1251.83,283.82L1253.30,284.95L1254.78,288.47L1256.25,292.07L1257.73,288.23L1259.20,285.58L1260.68,281.84L1262.15,281.76L1263.63,282.87L1265.10,280.63L1266.58,280.39L1268.05,275.12L1269.53,277.23L1271.00,275.50L1272.47,276.14L1273.95,274.45L1275.42,278.46L1276.90,284.12L1278.37,284.47L1279.85,283.29L1281.32,281.69L1282.80,282.60L1284.27,283.44L1285.75,280.59L1287.22,278.05L1288.70,275.40L1290.17,276.96L1291.65,275.80L1293.12,281.39L1294.60,286.84L1296.07,295.89L1297.55,299.50L1299.02,299.69L1300.50,300.57L1301.97,303.43L1303.45,305.25L1304.92,299.09L1306.40,299.51L1307.87,298.13L1309.35,296.97L1310.82,296.45L1312.30,296.22L1313.77,294.47L1315.25,293.29L1316.72,294.90L1318.20,296.24L1319.67,297.43L1321.15,298.44L1322.62,294.47L1324.09,289.65L1325.57,287.22L1327.04,285.91L1328.52,284.16L1329.99,284.61L1331.47,284.74L1332.94,283.99L1334.42,282.53L1335.89,282.70L1337.37,281.01L1338.84,280.33L1340.32,280.91L1341.79,281.41L1343.27,281.84L1344.74,286.77L1346.22,286.02L1347.69,286.88L1349.17,286.78L1350.64,283.24L1352.12,283.87L1353.59,283.64L1355.07,281.94L1356.54,282.08L1358.02,284.38L1359.49,282.73L1360.97,277.03L1362.44,276.91L1363.92,275.14L1365.39,274.51L1366.87,274.64L1368.34,280.89L1369.82,282.09L1371.29,284.26L1372.77,284.51L1374.24,285.61L1375.72,285.47L1377.19,287.66L1378.66,286.93L1380.14,287.62L1381.61,294.83L1383.09,309.96L1384.56,319.89L1386.04,311.59L1387.51,308.66L1388.99,304.65L1390.46,301.98L1391.94,300.92L1393.41,298.53L1394.89,300.88L1396.36,299.67L1397.84,298.86L1399.31,298.81L1400.79,297.77L1402.26,298.63L1403.74,299.26L1405.21,299.85L1406.69,300.97L1408.16,300.92L1409.64,298.97L1411.11,296.37L1412.59,293.17L1414.06,291.24L1415.54,288.74L1417.01,285.45L1418.49,282.34L1419.96,283.64L1421.44,284.48L1422.91,289.16L1424.39,288.03L1425.86,286.18L1427.34,286.61L1428.81,285.69L1430.28,291.19L1431.76,293.63L1433.23,292.46L1434.71,291.78L1436.18,290.65L1437.66,290.25L1439.13,288.76L1440.61,288.51L1442.08,289.07L1443.56,287.73L1445.03,288.04L1446.51,286.34L1447.98,286.46L1449.46,289.46L1450.93,289.52L1452.41,291.79L1453.88,290.60L1455.36,288.79L1456.83,293.11L1458.31,289.07L1459.78,281.96L1461.26,280.77L1462.73,282.19L1464.21,282.45L1465.68,282.80L1467.16,283.12L1468.63,282.16L1470.11,280.17L1471.58,279.42L1473.06,278.08L1474.53,276.78L1476.01,276.15L1477.48,274.65L1478.96,274.53L1480.43,273.63L1481.91,273.16L1483.38,271.05L1484.85,272.18L1486.33,270.38L1487.80,267.45L1489.28,262.60L1490.75,263.34L1492.23,260.87L1493.70,260.45L1495.18,260.54L1496.65,259.80L1498.13,258.88L1499.60,260.52L1501.08,269.19L1502.55,266.16L1504.03,264.27L1505.50,263.77L1506.98,262.78L1508.45,259.80L1509.93,258.44L1511.40,256.93L1512.88,255.03L1514.35,253.46L1515.83,252.78L1517.30,250.81L1518.78,251.05L1520.25,246.30L1521.73,241.23L1523.20,237.09L1524.68,225.88L1526.15,225.98L1527.63,230.60L1529.10,230.71L1530.58,221.63L1532.05,220.69L1533.53,220.17L1535.00,225.64" fill="none" stroke="#7fd3d7" stroke-width="4.4" stroke-linejoin="round"/>
<path d="M215.00,174.50L216.47,184.02L217.95,192.50L219.42,197.76L220.90,203.25L222.37,204.24L223.85,204.50L225.32,202.25L226.80,200.75L228.27,201.40L229.75,198.69L231.22,198.27L232.70,198.44L234.17,201.45L235.65,201.98L237.12,207.30L238.60,214.79L240.07,218.09L241.55,219.59L243.02,225.13L244.50,229.05L245.97,231.81L247.45,234.78L248.92,236.75L250.40,237.57L251.87,245.50L253.35,238.66L254.82,234.92L256.30,232.57L257.77,233.86L259.25,232.73L260.72,230.83L262.20,229.98L263.67,226.38L265.15,224.52L266.62,224.45L268.09,223.70L269.57,226.92L271.04,232.97L272.52,239.44L273.99,246.99L275.47,254.02L276.94,263.99L278.42,266.55L279.89,269.70L281.37,278.39L282.84,284.69L284.32,264.67L285.79,262.85L287.27,261.98L288.74,258.00L290.22,258.26L291.69,254.73L293.17,264.13L294.64,273.64L296.12,268.04L297.59,265.92L299.07,263.70L300.54,264.37L302.02,266.44L303.49,268.68L304.97,279.59L306.44,288.25L307.92,289.96L309.39,289.63L310.87,290.28L312.34,290.85L313.82,292.34L315.29,291.82L316.77,297.50L318.24,303.88L319.72,309.18L321.19,317.79L322.66,325.44L324.14,333.70L325.61,318.00L327.09,314.18L328.56,311.00L330.04,309.98L331.51,308.45L332.99,303.54L334.46,299.76L335.94,297.43L337.41,295.37L338.89,294.23L340.36,289.70L341.84,289.86L343.31,288.43L344.79,286.63L346.26,283.99L347.74,284.99L349.21,289.88L350.69,293.18L352.16,296.34L353.64,292.09L355.11,286.14L356.59,280.38L358.06,272.33L359.54,266.18L361.01,261.34L362.49,262.00L363.96,262.36L365.44,261.16L366.91,257.49L368.39,255.56L369.86,254.82L371.34,251.98L372.81,251.26L374.28,249.66L375.76,248.75L377.23,247.33L378.71,245.49L380.18,245.11L381.66,236.66L383.13,233.82L384.61,230.53L386.08,230.75L387.56,234.13L389.03,227.62L390.51,225.70L391.98,226.74L393.46,225.37L394.93,226.18L396.41,229.00L397.88,233.60L399.36,246.25L400.83,243.44L402.31,239.75L403.78,238.87L405.26,238.89L406.73,237.82L408.21,238.36L409.68,239.05L411.16,239.28L412.63,242.15L414.11,242.58L415.58,241.91L417.06,245.47L418.53,243.23L420.01,245.60L421.48,246.96L422.96,248.98L424.43,248.85L425.91,244.96L427.38,246.14L428.85,243.78L430.33,242.18L431.80,242.30L433.28,239.95L434.75,240.48L436.23,239.50L437.70,239.07L439.18,237.67L440.65,237.84L442.13,239.59L443.60,242.30L445.08,246.95L446.55,250.65L448.03,254.56L449.50,256.40L450.98,259.44L452.45,262.26L453.93,262.28L455.40,262.56L456.88,258.20L458.35,258.67L459.83,256.75L461.30,257.05L462.78,260.04L464.25,259.92L465.73,269.90L467.20,273.14L468.68,274.48L470.15,277.37L471.63,279.67L473.10,283.00L474.58,281.09L476.05,282.63L477.53,285.17L479.00,288.23L480.47,290.10L481.95,302.32L483.42,304.77L484.90,304.86L486.37,299.63L487.85,292.35L489.32,287.16L490.80,285.81L492.27,285.74L493.75,288.37L495.22,287.81L496.70,292.19L498.17,295.52L499.65,295.19L501.12,294.35L502.60,295.27L504.07,299.67L505.55,294.59L507.02,292.78L508.50,293.71L509.97,291.25L511.45,289.97L512.92,289.91L514.40,286.62L515.87,288.12L517.35,285.56L518.82,285.49L520.30,284.90L521.77,285.80L523.25,286.71L524.72,290.12L526.20,292.08L527.67,292.71L529.15,292.84L530.62,294.84L532.09,297.18L533.57,297.89L535.04,296.37L536.52,295.02L537.99,292.47L539.47,289.98L540.94,288.78L542.42,286.85L543.89,286.24L545.37,285.90L546.84,285.50L548.32,286.90L549.79,286.61L551.27,287.42L552.74,288.70L554.22,289.21L555.69,291.83L557.17,294.74L558.64,298.95L560.12,302.24L561.59,305.29L563.07,305.17L564.54,305.44L566.02,299.85L567.49,298.57L568.97,297.52L570.44,296.07L571.92,295.43M574.87,290.41L576.34,287.00L577.82,285.03L579.29,282.52L580.77,282.25L582.24,279.41L583.72,280.00L585.19,278.73L586.66,276.90L588.14,274.99L589.61,272.40L591.09,269.03L592.56,268.51L594.04,265.00L595.51,264.34L596.99,265.00L598.46,267.18L599.94,268.20L601.41,266.91L602.89,266.21L604.36,267.59L605.84,267.23L607.31,265.66L608.79,266.45L610.26,263.43L611.74,264.85L613.21,267.62L614.69,270.26L616.16,272.34L617.64,274.10L619.11,275.20L620.59,275.00L622.06,274.58L623.54,276.58L625.01,274.51L626.49,276.25L627.96,276.03L629.44,275.12L630.91,278.12L632.39,279.56L633.86,277.80L635.34,282.34L636.81,286.15L638.28,287.50L639.76,288.72L641.23,290.65L642.71,292.77L644.18,294.80L645.66,298.46L647.13,296.18L648.61,293.21L650.08,292.43L651.56,291.76L653.03,291.48L654.51,290.00L655.98,290.20L657.46,290.50L658.93,288.76L660.41,285.60L661.88,285.22L663.36,283.93L664.83,282.57L666.31,282.21L667.78,282.48L669.26,281.38L670.73,282.50L672.21,285.20L673.68,283.52L675.16,281.85L676.63,280.09L678.11,280.87L679.58,285.13L681.06,290.03L682.53,293.37L684.01,299.67L685.48,299.40L686.96,300.15L688.43,300.47L689.91,301.25L691.38,303.87L692.85,303.97L694.33,307.00L695.80,305.65L697.28,306.36L698.75,308.37L700.23,307.96L701.70,307.58L703.18,305.80L704.65,304.97L706.13,307.29L707.60,306.52L709.08,306.16L710.55,309.81L712.03,310.19L713.50,310.48L714.98,309.87L716.45,311.48L717.93,312.59L719.40,313.12L720.88,311.16L722.35,314.24L723.83,315.91L725.30,314.40L726.78,312.68L728.25,314.10L729.73,314.21L731.20,311.25L732.68,307.93L734.15,304.32L735.63,302.65L737.10,299.56L738.58,304.42L740.05,308.16L741.53,309.86L743.00,311.86L744.47,310.87L745.95,308.81L747.42,307.21L748.90,303.25L750.37,303.74L751.85,304.68L753.32,307.73L754.80,309.19L756.27,311.63L757.75,310.17L759.22,310.57L760.70,308.97L762.17,309.88L763.65,312.40L765.12,312.67L766.60,314.73L768.07,317.50L769.55,315.37L771.02,316.42L772.50,315.93L773.97,311.02L775.45,309.78L776.92,308.59L778.40,308.51L779.87,310.87L781.35,311.90L782.82,311.96L784.30,310.07L785.77,313.33L787.25,313.03L788.72,313.58L790.20,314.47L791.67,317.71L793.15,318.85L794.62,322.82L796.09,326.07L797.57,328.17L799.04,329.83L800.52,333.65L801.99,334.27L803.47,334.41L804.94,337.00L806.42,335.68L807.89,332.74L809.37,330.21L810.84,329.74L812.32,328.05L813.79,327.23L815.27,328.86L816.74,327.95L818.22,329.93L819.69,330.34L821.17,331.99L822.64,333.26L824.12,335.31L825.59,335.29L827.07,335.60L828.54,336.10L830.02,337.25L831.49,338.35L832.97,338.70L834.44,340.93L835.92,338.18L837.39,338.89L838.87,339.45L840.34,338.48L841.82,338.00L843.29,338.64L844.77,338.24L846.24,337.41L847.72,335.09L849.19,335.56L850.66,339.74L852.14,344.81L853.61,346.33L855.09,349.21L856.56,353.94L858.04,358.28L859.51,357.57L860.99,357.39L862.46,352.95L863.94,349.49L865.41,347.08L866.89,344.46L868.36,344.09L869.84,345.99L871.31,345.90L872.79,343.64L874.26,342.52L875.74,342.37L877.21,338.32L878.69,340.00L880.16,338.56L881.64,338.49L883.11,340.07L884.59,340.11L886.06,341.38L887.54,342.90L889.01,342.29L890.49,342.64L891.96,345.61L893.44,345.57L894.91,346.31L896.39,344.26L897.86,345.80L899.34,346.70L900.81,348.75L902.28,351.42L903.76,353.76L905.23,352.99L906.71,354.73L908.18,355.34L909.66,355.43L911.13,355.07L912.61,356.63L914.08,356.18L915.56,356.75L917.03,359.70L918.51,359.93L919.98,360.64L921.46,360.66L922.93,361.98L924.41,360.15L925.88,363.45L927.36,366.78L928.83,365.21L930.31,362.09L931.78,355.64M934.73,360.38L936.21,362.59L937.68,362.63L939.16,367.48L940.63,369.67L942.11,372.39L943.58,373.59L945.06,374.78L946.53,373.88L948.01,375.53L949.48,376.44L950.96,377.23L952.43,379.50L953.91,384.40L955.38,390.10L956.85,389.13L958.33,390.88L959.80,388.15L961.28,389.56L962.75,391.51L964.23,393.67L965.70,397.27L967.18,407.37L968.65,410.54L970.13,414.53L971.60,409.61L973.08,402.73L974.55,389.85L976.03,387.85L977.50,386.23L978.98,385.17L980.45,381.35L981.93,379.78L983.40,376.80L984.88,374.04L986.35,374.90L987.83,372.16L989.30,370.00L990.78,371.21L992.25,370.95L993.73,367.83L995.20,367.58L996.68,365.69L998.15,364.91L999.63,361.84L1001.10,362.52L1002.58,361.38L1004.05,360.38L1005.53,362.05L1007.00,358.82L1008.47,360.74L1009.95,362.00L1011.42,364.17L1012.90,366.01L1014.37,368.14L1015.85,372.35L1017.32,371.21L1018.80,372.27M1021.75,365.51L1023.22,362.19L1024.70,365.05L1026.17,368.00L1027.65,366.31L1029.12,369.06L1030.60,369.17L1032.07,368.16L1033.55,369.44L1035.02,370.43L1036.50,372.10L1037.97,372.99L1039.45,371.97L1040.92,370.46L1042.40,369.07L1043.87,365.88L1045.35,362.28L1046.82,357.38L1048.30,356.82L1049.77,353.92L1051.25,352.31L1052.72,352.66L1054.20,352.72L1055.67,351.27L1057.15,350.22L1058.62,352.40L1060.09,354.81L1061.57,355.76L1063.04,355.00L1064.52,355.39L1065.99,356.31L1067.47,358.98L1068.94,358.61L1070.42,358.76L1071.89,361.89L1073.37,361.08L1074.84,359.79L1076.32,358.87L1077.79,360.19L1079.27,360.69L1080.74,362.65L1082.22,361.88L1083.69,363.90L1085.17,362.87L1086.64,363.57L1088.12,365.21L1089.59,366.13L1091.07,366.19L1092.54,365.98L1094.02,367.63L1095.49,366.37L1096.97,365.01L1098.44,367.06L1099.92,368.75L1101.39,368.66L1102.87,371.90L1104.34,372.05L1105.82,376.37L1107.29,373.88M1110.24,375.09L1111.72,375.34L1113.19,378.56L1114.66,380.04L1116.14,382.85L1117.61,383.33L1119.09,381.64L1120.56,376.75L1122.04,377.93L1123.51,377.54L1124.99,374.75L1126.46,375.36L1127.94,374.21L1129.41,375.80L1130.89,381.38L1132.36,382.62L1133.84,387.34L1135.31,387.51L1136.79,390.00L1138.26,387.66L1139.74,387.24L1141.21,386.15L1142.69,383.45L1144.16,383.75L1145.64,389.36L1147.11,393.23L1148.59,395.27L1150.06,394.88L1151.54,394.25L1153.01,392.99L1154.49,392.31L1155.96,394.24L1157.44,392.68L1158.91,393.48L1160.39,395.03L1161.86,395.06L1163.34,394.55L1164.81,395.41L1166.28,397.09L1167.76,395.91L1169.23,396.78L1170.71,398.80L1172.18,398.19L1173.66,398.75L1175.13,398.41L1176.61,399.03L1178.08,400.17L1179.56,401.97L1181.03,402.53L1182.51,403.08L1183.98,405.31L1185.46,405.03L1186.93,403.40L1188.41,405.11L1189.88,405.25L1191.36,401.69L1192.83,397.35L1194.31,395.60L1195.78,392.79L1197.26,388.55L1198.73,384.20L1200.21,380.34L1201.68,362.01L1203.16,342.93L1204.63,324.11L1206.11,312.90L1207.58,334.57L1209.06,342.53L1210.53,341.56L1212.01,345.88L1213.48,350.39L1214.96,354.05L1216.43,344.78L1217.91,341.79L1219.38,338.73L1220.85,337.58L1222.33,336.95L1223.80,337.13L1225.28,336.88L1226.75,339.62L1228.23,341.14L1229.70,344.66L1231.18,341.61L1232.65,334.69L1234.13,333.73L1235.60,327.54L1237.08,325.71L1238.55,324.80L1240.03,326.52L1241.50,325.89L1242.98,328.90L1244.45,334.70L1245.93,341.96L1247.40,346.63L1248.88,342.34L1250.35,337.88L1251.83,338.49L1253.30,342.31L1254.78,344.70L1256.25,349.96L1257.73,343.79L1259.20,342.24L1260.68,342.67L1262.15,341.88L1263.63,340.33L1265.10,338.41L1266.58,338.92L1268.05,338.87L1269.53,337.14L1271.00,337.20L1272.47,335.15L1273.95,336.21L1275.42,336.88L1276.90,342.35L1278.37,344.51L1279.85,344.20L1281.32,347.60L1282.80,346.84L1284.27,345.88L1285.75,346.15L1287.22,343.36L1288.70,343.70L1290.17,341.39L1291.65,344.34L1293.12,348.13L1294.60,351.68L1296.07,356.93L1297.55,355.63L1299.02,357.31L1300.50,357.98L1301.97,359.64L1303.45,359.33L1304.92,361.35L1306.40,353.53L1307.87,353.01L1309.35,351.98L1310.82,351.83L1312.30,348.58L1313.77,347.58L1315.25,346.37L1316.72,345.26L1318.20,347.01L1319.67,349.23L1321.15,350.56L1322.62,345.26L1324.09,340.69L1325.57,339.66L1327.04,338.00L1328.52,336.60L1329.99,337.06L1331.47,335.90L1332.94,333.20L1334.42,332.92L1335.89,331.66L1337.37,330.38L1338.84,325.84L1340.32,321.71L1341.79,322.20L1343.27,323.91L1344.74,328.36L1346.22,329.68L1347.69,328.64L1349.17,328.03L1350.64,326.95L1352.12,323.67L1353.59,322.92L1355.07,323.08L1356.54,322.87L1358.02,322.81L1359.49,320.68L1360.97,320.09L1362.44,319.93L1363.92,316.91L1365.39,316.81L1366.87,315.95L1368.34,322.24L1369.82,325.12L1371.29,325.29L1372.77,327.69L1374.24,327.50L1375.72,326.35L1377.19,326.48L1378.66,327.13L1380.14,333.40L1381.61,366.10L1383.09,364.83L1384.56,363.92L1386.04,349.41L1387.51,347.98L1388.99,344.76L1390.46,346.30L1391.94,348.51L1393.41,348.63L1394.89,347.82L1396.36,348.42L1397.84,347.01L1399.31,342.48L1400.79,342.37L1402.26,342.31L1403.74,340.44L1405.21,338.34L1406.69,339.34L1408.16,337.74L1409.64,335.22L1411.11,336.38L1412.59,336.02L1414.06,336.04L1415.54,335.58L1417.01,335.82L1418.49,333.88L1419.96,334.72L1421.44,336.77L1422.91,335.39L1424.39,333.58L1425.86,331.43L1427.34,333.11L1428.81,333.59L1430.28,337.40L1431.76,337.83L1433.23,336.25L1434.71,333.69L1436.18,331.34L1437.66,331.91L1439.13,330.68L1440.61,330.01L1442.08,327.39L1443.56,326.41L1445.03,325.61L1446.51,325.51L1447.98,327.08L1449.46,326.67L1450.93,327.26L1452.41,329.67L1453.88,330.40L1455.36,334.59L1456.83,334.03L1458.31,331.26L1459.78,330.02L1461.26,328.32L1462.73,325.88L1464.21,325.41L1465.68,324.90L1467.16,323.45L1468.63,322.31L1470.11,323.35L1471.58,321.16L1473.06,319.99L1474.53,317.92L1476.01,318.31L1477.48,315.92L1478.96,314.72L1480.43,310.80L1481.91,308.13L1483.38,306.29L1484.85,303.39L1486.33,302.61L1487.80,301.77L1489.28,300.33L1490.75,298.01L1492.23,295.87L1493.70,293.32L1495.18,289.54L1496.65,291.42L1498.13,292.00L1499.60,293.49L1501.08,297.15L1502.55,293.87L1504.03,291.93L1505.50,289.41L1506.98,286.97L1508.45,285.79L1509.93,282.92L1511.40,278.14L1512.88,277.74L1514.35,272.20L1515.83,271.78L1517.30,269.55L1518.78,267.15L1520.25,265.64L1521.73,261.74L1523.20,257.75L1524.68,250.48L1526.15,250.71L1527.63,248.19L1529.10,243.92L1530.58,239.79L1532.05,238.93L1533.53,238.62" fill="none" stroke="#a0a0a0" stroke-width="4.4" stroke-linejoin="round"/>
<g fill="#fff" stroke="#8fafdf" stroke-width="2"><circle cx="215.00" cy="174.50" r="4"/><circle cx="251.87" cy="285.75" r="4"/><circle cx="288.74" cy="270.00" r="4"/><circle cx="325.61" cy="356.80" r="4"/><circle cx="362.49" cy="308.00" r="4"/><circle cx="399.36" cy="278.25" r="4"/><circle cx="436.23" cy="243.75" r="4"/><circle cx="473.10" cy="290.00" r="4"/><circle cx="509.97" cy="292.50" r="4"/><circle cx="546.84" cy="334.50" r="4"/><circle cx="583.72" cy="339.50" r="4"/><circle cx="620.59" cy="344.25" r="4"/><circle cx="657.46" cy="363.00" r="4"/><circle cx="694.33" cy="353.00" r="4"/><circle cx="731.20" cy="345.00" r="4"/><circle cx="768.07" cy="395.00" r="4"/><circle cx="804.94" cy="412.50" r="4"/><circle cx="841.82" cy="419.25" r="4"/><circle cx="878.69" cy="416.75" r="4"/><circle cx="915.56" cy="419.38" r="4"/><circle cx="952.43" cy="450.38" r="4"/><circle cx="989.30" cy="439.38" r="4"/><circle cx="1026.17" cy="433.25" r="4"/><circle cx="1063.04" cy="435.00" r="4"/><circle cx="1099.92" cy="436.75" r="4"/><circle cx="1136.79" cy="455.00" r="4"/><circle cx="1173.66" cy="459.25" r="4"/><circle cx="1210.53" cy="420.63" r="4"/><circle cx="1247.40" cy="424.94" r="4"/><circle cx="1284.27" cy="416.31" r="4"/><circle cx="1321.15" cy="406.94" r="4"/><circle cx="1358.02" cy="376.94" r="4"/><circle cx="1394.89" cy="421.56" r="4"/><circle cx="1431.76" cy="425.38" r="4"/><circle cx="1468.63" cy="408.81" r="4"/><circle cx="1505.50" cy="372.25" r="4"/><circle cx="1535.00" cy="305.44" r="4"/></g>
<g fill="#fff" stroke="#fdd598" stroke-width="2"><circle cx="215.00" cy="174.50" r="4"/><circle cx="251.87" cy="229.50" r="4"/><circle cx="288.74" cy="251.25" r="4"/><circle cx="325.61" cy="306.00" r="4"/><circle cx="362.49" cy="254.00" r="4"/><circle cx="399.36" cy="240.00" r="4"/><circle cx="436.23" cy="227.50" r="4"/><circle cx="473.10" cy="268.00" r="4"/><circle cx="509.97" cy="279.50" r="4"/><circle cx="546.84" cy="272.50" r="4"/><circle cx="583.72" cy="267.50" r="4"/><circle cx="620.59" cy="258.75" r="4"/><circle cx="657.46" cy="274.50" r="4"/><circle cx="694.33" cy="288.75" r="4"/><circle cx="731.20" cy="291.25" r="4"/><circle cx="768.07" cy="298.75" r="4"/><circle cx="804.94" cy="318.00" r="4"/><circle cx="841.82" cy="320.50" r="4"/><circle cx="878.69" cy="327.00" r="4"/><circle cx="915.56" cy="340.50" r="4"/><circle cx="952.43" cy="364.50" r="4"/><circle cx="989.30" cy="353.25" r="4"/><circle cx="1026.17" cy="348.75" r="4"/><circle cx="1063.04" cy="334.25" r="4"/><circle cx="1099.92" cy="348.00" r="4"/><circle cx="1136.79" cy="370.00" r="4"/><circle cx="1173.66" cy="379.50" r="4"/><circle cx="1210.53" cy="320.56" r="4"/><circle cx="1247.40" cy="323.75" r="4"/><circle cx="1284.27" cy="320.56" r="4"/><circle cx="1321.15" cy="324.31" r="4"/><circle cx="1358.02" cy="298.44" r="4"/><circle cx="1394.89" cy="328.21" r="4"/><circle cx="1431.76" cy="316.40" r="4"/><circle cx="1468.63" cy="300.88" r="4"/><circle cx="1505.50" cy="269.17" r="4"/><circle cx="1535.00" cy="223.62" r="4"/></g>
<g fill="#fff" stroke="#7fd3d7" stroke-width="2"><circle cx="215.00" cy="174.50" r="4"/><circle cx="251.87" cy="216.25" r="4"/><circle cx="288.74" cy="247.50" r="4"/><circle cx="325.61" cy="287.00" r="4"/><circle cx="362.49" cy="255.00" r="4"/><circle cx="399.36" cy="241.25" r="4"/><circle cx="436.23" cy="257.00" r="4"/><circle cx="473.10" cy="287.50" r="4"/><circle cx="509.97" cy="311.25" r="4"/><circle cx="546.84" cy="280.00" r="4"/><circle cx="583.72" cy="274.50" r="4"/><circle cx="620.59" cy="264.25" r="4"/><circle cx="657.46" cy="275.00" r="4"/><circle cx="694.33" cy="272.50" r="4"/><circle cx="731.20" cy="291.25" r="4"/><circle cx="768.07" cy="295.00" r="4"/><circle cx="804.94" cy="305.75" r="4"/><circle cx="841.82" cy="309.50" r="4"/><circle cx="878.69" cy="318.00" r="4"/><circle cx="915.56" cy="346.75" r="4"/><circle cx="952.43" cy="355.00" r="4"/><circle cx="989.30" cy="326.25" r="4"/><circle cx="1026.17" cy="326.25" r="4"/><circle cx="1063.04" cy="315.00" r="4"/><circle cx="1099.92" cy="330.75" r="4"/><circle cx="1136.79" cy="341.25" r="4"/><circle cx="1173.66" cy="354.50" r="4"/><circle cx="1210.53" cy="280.25" r="4"/><circle cx="1247.40" cy="281.56" r="4"/><circle cx="1284.27" cy="283.44" r="4"/><circle cx="1321.15" cy="298.44" r="4"/><circle cx="1358.02" cy="284.38" r="4"/><circle cx="1394.89" cy="300.88" r="4"/><circle cx="1431.76" cy="293.63" r="4"/><circle cx="1468.63" cy="282.16" r="4"/><circle cx="1505.50" cy="263.77" r="4"/><circle cx="1535.00" cy="225.64" r="4"/></g>
<g fill="#fff" stroke="#a0a0a0" stroke-width="2"><circle cx="215.00" cy="174.50" r="4"/><circle cx="251.87" cy="245.50" r="4"/><circle cx="288.74" cy="258.00" r="4"/><circle cx="325.61" cy="318.00" r="4"/><circle cx="362.49" cy="262.00" r="4"/><circle cx="399.36" cy="246.25" r="4"/><circle cx="436.23" cy="239.50" r="4"/><circle cx="473.10" cy="283.00" r="4"/><circle cx="509.97" cy="291.25" r="4"/><circle cx="546.84" cy="285.50" r="4"/><circle cx="583.72" cy="280.00" r="4"/><circle cx="620.59" cy="275.00" r="4"/><circle cx="657.46" cy="290.50" r="4"/><circle cx="694.33" cy="307.00" r="4"/><circle cx="731.20" cy="311.25" r="4"/><circle cx="768.07" cy="317.50" r="4"/><circle cx="804.94" cy="337.00" r="4"/><circle cx="841.82" cy="338.00" r="4"/><circle cx="878.69" cy="340.00" r="4"/><circle cx="915.56" cy="356.75" r="4"/><circle cx="952.43" cy="379.50" r="4"/><circle cx="989.30" cy="370.00" r="4"/><circle cx="1026.17" cy="368.00" r="4"/><circle cx="1063.04" cy="355.00" r="4"/><circle cx="1099.92" cy="368.75" r="4"/><circle cx="1136.79" cy="390.00" r="4"/><circle cx="1173.66" cy="398.75" r="4"/><circle cx="1210.53" cy="341.56" r="4"/><circle cx="1247.40" cy="346.63" r="4"/><circle cx="1284.27" cy="345.88" r="4"/><circle cx="1321.15" cy="350.56" r="4"/><circle cx="1358.02" cy="322.81" r="4"/><circle cx="1394.89" cy="347.82" r="4"/><circle cx="1431.76" cy="337.83" r="4"/><circle cx="1468.63" cy="322.31" r="4"/><circle cx="1505.50" cy="289.41" r="4"/></g>
<line x1="412" y1="738" x2="462" y2="738" stroke="#8fafdf" stroke-width="2.2"/>
<circle cx="437" cy="737.6" r="11" fill="#fff" stroke="#8fafdf" stroke-width="2"/>
<text x="472" y="735.8" class="leg" dominant-baseline="central">招商中国机遇股票</text>
<line x1="686" y1="738" x2="736" y2="738" stroke="#fdd598" stroke-width="2.2"/>
<circle cx="711" cy="737.6" r="11" fill="#fff" stroke="#fdd598" stroke-width="2"/>
<text x="746" y="735.8" class="leg" dominant-baseline="central">同类平均</text>
<line x1="862" y1="738" x2="912" y2="738" stroke="#7fd3d7" stroke-width="2.2"/>
<circle cx="887" cy="737.6" r="11" fill="#fff" stroke="#7fd3d7" stroke-width="2"/>
<text x="922" y="735.8" class="leg" dominant-baseline="central">沪深300</text>
<line x1="1033" y1="738" x2="1083" y2="738" stroke="#a0a0a0" stroke-width="2.2"/>
<circle cx="1058" cy="737.6" r="11" fill="#fff" stroke="#a0a0a0" stroke-width="2"/>
<text x="1093" y="735.8" class="leg" dominant-baseline="central">主动股基</text>
<text x="800" y="797" text-anchor="middle" class="foot">制图数据来自恒生聚源数据库</text>
<defs>
<linearGradient id="lg" x1="0" y1="5" x2="0" y2="85" gradientUnits="userSpaceOnUse">
<stop offset="0" stop-color="#40e2ea"/><stop offset="0.5" stop-color="#1cb2f4"/><stop offset="1" stop-color="#2a55ef"/>
</linearGradient>
<linearGradient id="lgb" x1="0" y1="34" x2="0" y2="72" gradientUnits="userSpaceOnUse">
<stop offset="0" stop-color="#68c9f7"/><stop offset="1" stop-color="#3f93f0"/>
</linearGradient>
</defs>
<g transform="translate(1310,695)">
<g fill="url(#lg)">
<path d="M7.9,22.1 C8.5,19 9.5,17.5 10.8,16.4 C14,13.5 17.5,11.5 21.6,9.9 C25,8.5 28.5,7.5 32.3,7.0 C35,6.6 38,6.4 40.2,6.7 C42,7.2 43.3,8.3 43.8,9.9 C44.6,11.3 43.5,16 42.4,20 C41,25 39.5,28 37.4,30.7 C35.5,35 33.5,38.5 31.6,42.2 C30.5,44.5 29.5,46.5 28.7,47 C28.7,48.5 28.7,50 28.7,50.7 C27,53.5 25,56.5 23.7,59.4 C22.3,63 21.3,66.5 20.8,70.2 C20.5,72.5 20.2,74.5 20.1,76.6 C22,76.7 23.5,76.7 25.2,76.6 C28.5,76.4 31.5,76.2 34.5,75.9 C32.5,77.3 30.5,78.2 28.7,78.8 C25,80.5 21.5,81.8 18,82.4 C15,82.8 12,82.8 9.3,82.4 C7.5,81.5 6.2,80.2 5.7,78.8 C5.2,77 5.3,75.5 5.7,73.7 C6.6,70 7.8,66.5 9.3,63 C10.8,59.3 12.5,55.7 14.4,52.2 C15.6,49.7 16.8,47.3 18,45 C19.2,42 20.4,39 21.6,36.5 C23.5,32 25.5,28 27.3,23.6 C28.5,20 29.5,16 30.2,12.8 C29.3,12.3 28.3,12.1 27.3,12.1 C25.3,12.2 23.3,12.4 21.6,12.8 C19.5,13.8 17.3,15 15.8,16.4 C14.8,17.3 14,18.3 13.7,19.3 C13.7,20.2 14,20.6 14.4,20.7 C15.6,20.7 16.8,20.4 18,20.3 C18.5,20.8 18.8,21.4 18.7,22.1 C17.5,23.4 16,24.4 14.4,25 C13.2,25.5 12,25.8 10.8,25.7 C9.6,25.4 8.5,24.6 7.9,23.6 Z"/>
<path d="M58.9,11.3 C60,10 61.2,9.3 62.5,8.8 C65.5,8.2 68.8,8.1 71.9,8.3 C74,8.6 75.8,9.4 76.9,10.6 C77.2,11.4 76.9,12.1 76.2,12.8 C73.5,15.8 71,18.6 68.3,21.4 C64.8,25 61.2,28.6 57.5,32.2 C54,35.6 50.4,39 46.7,42.2 C44.6,44 42.4,45.6 40.2,47 C37.8,46.6 35.4,45.9 33.1,45.1 C34.7,43.2 36.4,41.3 38.1,39.4 C40.3,36.5 42.4,33.6 44.6,30.7 C47.7,26.9 50.8,23.1 53.9,19.3 C55.6,16.6 57.2,13.9 58.9,11.3 Z"/>
<path d="M48.9,45.1 C46.8,45.5 44.8,46.2 43.1,47.2 C41,48.7 39,50.3 37.4,52.2 C35.4,54.5 34,56.9 33.1,59.4 C32.3,61.8 32.1,64.2 32.3,66.6 C32.7,69 34,71.5 35.9,73.7 C39,76.3 42.7,78.2 46.7,79.5 C52.5,81.4 58.5,82.6 64.7,83.1 C69.5,83.4 74.3,83.1 79.1,82.4 C84,81.4 88.8,79.7 93.4,77.3 C96.7,75 99.7,72 102.1,68.7 C104.3,64.7 105.8,60.3 106.4,55.8 C106.8,52.2 106.8,48.6 106.4,45 C106.1,40.5 105.6,36.2 104.9,32.2 C104.2,29.2 103.2,26.3 102.1,23.6 C100.8,20.9 99,18.4 97,16.4 C94.8,14.9 92.3,14.2 89.8,14.2 C87.2,14.3 84.7,15.1 82.7,16.4 C81.2,17.9 80.4,20 80.5,22.1 C80.8,24.4 81.5,26.3 82.7,27.9 C84.3,29.5 86.3,30.5 88.4,30.7 C90,30.7 91.5,30.2 92.7,29.3 C93.6,28.3 94.2,27 94.2,25.7 C94,24.3 93.2,23.3 92,22.8 C90.8,22.4 89.5,22.5 88.4,22.8 C87.6,23.6 87.3,24.3 87.3,25 C86.2,24.8 85.3,24 85,22.6 C84.8,20.8 85.6,19 87,18 C88.5,17.2 90.2,16.9 92,17.2 C94.5,17.8 96.5,19.8 97.6,23 C98.8,26.5 99.6,29.5 100.4,33.5 C101.5,38 102.2,42 102.4,46 C102.8,49.5 102.8,52.5 102.5,55.8 C101.8,59.5 100.6,62.5 99,65.5 C97.3,68 95.4,70 93.2,71.8 C88.3,73.4 85.6,74.8 82.7,75.5 C79.1,76.1 75.5,76.1 71.9,75.6 C68.2,75.1 64.6,74.3 61.1,73 C57.7,73.8 54.5,72.1 51.7,70.2 C49.5,68.1 47.8,65.6 46.7,63 C46,60.6 45.8,58.2 46,55.8 C46.3,53.4 46.8,51 47.4,48.6 C47.8,47.4 48.3,46.2 48.9,45.1 Z"/>
</g>
<circle cx="77.6" cy="53.1" r="18.7" fill="none" stroke="#3aa9f2" stroke-width="1.3"/>
<circle cx="77.6" cy="53.1" r="17" fill="url(#lgb)"/>
<g transform="translate(77.6,53.1)">
<g fill="#04060a">
<path d="M-6,-16.5 L2,-17 L3.5,-12.5 L-2,-10 L-6.5,-12.5 Z"/>
<path d="M8.5,-3 L14.5,-5.5 L16.5,1.5 L13,7 L8.5,4 Z"/>
<path d="M-10,5 L-4,3 L-1,9 L-4.5,13.5 L-10,11.5 Z"/>
<path d="M2,13.5 L7,12.5 L6,16 L2,16.5 Z"/>
</g>
<g fill="none" stroke="#1a5bb0" stroke-width="0.6">
<path d="M-2,-10 L3.5,-12.5 L8.5,-3 L8.5,4 L1,6 L-4,3 L-7,-5 Z"/>
<path d="M1,6 L-1,9 M8.5,4 L13,7 M-7,-5 L-13,-7 M-4,3 L-10,5 M3.5,-12.5 L9,-14 M-6.5,-12.5 L-12,-9 M-13,-7 L-16,1 M-10,11.5 L-5,15"/>
</g>
</g>
</g>
<text x="1429" y="746" class="logo1">开云体育</text>
<text x="1431" y="773" class="logo2">kaiyun.com</text>
</svg>
</body></html>
